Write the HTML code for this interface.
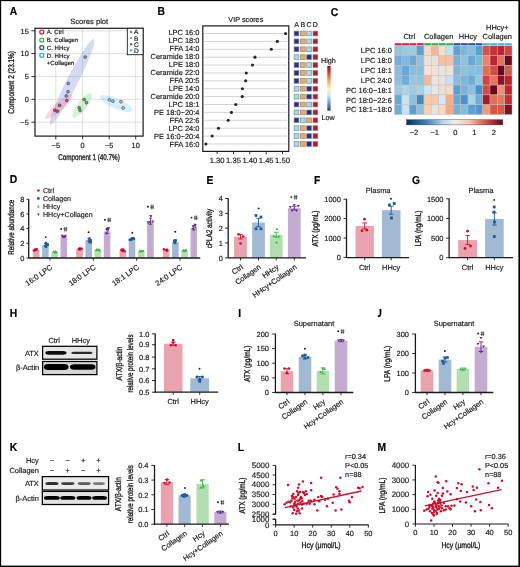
<!DOCTYPE html>
<html><head><meta charset="utf-8"><title>Figure</title>
<style>
html,body{margin:0;padding:0;background:#fff;}
svg{display:block;will-change:transform;}
svg text{font-family:"Liberation Sans", sans-serif;text-rendering:geometricPrecision;stroke:currentColor;stroke-width:0.18px;}
</style></head>
<body>
<svg width="520" height="567" viewBox="0 0 520 567" font-family='"Liberation Sans", sans-serif' fill="#222">
<rect x="0" y="0" width="520" height="567" fill="#fff"/>
<rect x="0" y="0" width="520" height="1" fill="#000"/><rect x="0" y="0" width="1" height="567" fill="#000"/>
<rect x="1" y="1" width="518" height="0.3" fill="#000" fill-opacity="0.5"/><rect x="1" y="1" width="0.3" height="565" fill="#000" fill-opacity="0.5"/>
<rect x="518.4" y="0" width="1.6" height="567" fill="#000"/><rect x="0" y="565.6" width="520" height="1.4" fill="#000"/>
<text x="9.8" y="15.25" font-size="11.5" font-weight="bold" fill="#000" color="#000" textLength="7.47" lengthAdjust="spacingAndGlyphs">A</text>
<text x="89.2" y="24.3" font-size="7.6" text-anchor="middle" fill="#1c1c1c" color="#1c1c1c">Scores plot</text>
<line x1="55.8" y1="28.3" x2="55.8" y2="136.1" stroke="#d8d8d8" stroke-width="0.8"/>
<line x1="82.6" y1="28.3" x2="82.6" y2="136.1" stroke="#d8d8d8" stroke-width="0.8"/>
<line x1="109.2" y1="28.3" x2="109.2" y2="136.1" stroke="#d8d8d8" stroke-width="0.8"/>
<line x1="135.7" y1="28.3" x2="135.7" y2="136.1" stroke="#d8d8d8" stroke-width="0.8"/>
<line x1="35" y1="30.8" x2="143.1" y2="30.8" stroke="#d8d8d8" stroke-width="0.8"/>
<line x1="35" y1="53.6" x2="143.1" y2="53.6" stroke="#d8d8d8" stroke-width="0.8"/>
<line x1="35" y1="76.6" x2="143.1" y2="76.6" stroke="#d8d8d8" stroke-width="0.8"/>
<line x1="35" y1="99.3" x2="143.1" y2="99.3" stroke="#d8d8d8" stroke-width="0.8"/>
<line x1="35" y1="122.2" x2="143.1" y2="122.2" stroke="#d8d8d8" stroke-width="0.8"/>
<ellipse cx="72" cy="82" rx="48" ry="5.7" transform="rotate(-63 72 82)" fill="#7f8fd6" fill-opacity="0.33"/>
<ellipse cx="59" cy="106.7" rx="17.6" ry="4.3" transform="rotate(-41.6 59 106.7)" fill="#f07fa0" fill-opacity="0.34"/>
<ellipse cx="82.2" cy="105.3" rx="14.6" ry="4.8" transform="rotate(-53 82.2 105.3)" fill="#8ad68a" fill-opacity="0.34"/>
<ellipse cx="116.2" cy="103.5" rx="17.5" ry="5.2" transform="rotate(23.7 116.2 103.5)" fill="#8ccff2" fill-opacity="0.34"/>
<circle cx="85.2" cy="57.1" r="1.45" fill="#8390d6" stroke="#333" stroke-width="0.55"/>
<circle cx="68.3" cy="83.4" r="1.45" fill="#8390d6" stroke="#333" stroke-width="0.55"/>
<circle cx="68" cy="91.7" r="1.45" fill="#8390d6" stroke="#333" stroke-width="0.55"/>
<circle cx="66.3" cy="95.9" r="1.45" fill="#8390d6" stroke="#333" stroke-width="0.55"/>
<circle cx="66.9" cy="100.6" r="1.45" fill="#c94a78" stroke="#333" stroke-width="0.55"/>
<circle cx="59.6" cy="105.4" r="1.45" fill="#c94a78" stroke="#333" stroke-width="0.55"/>
<circle cx="54.8" cy="110.2" r="1.45" fill="#c94a78" stroke="#333" stroke-width="0.55"/>
<circle cx="57.4" cy="111.3" r="1.45" fill="#c94a78" stroke="#333" stroke-width="0.55"/>
<circle cx="84.2" cy="99.6" r="1.45" fill="#4fb85a" stroke="#333" stroke-width="0.55"/>
<circle cx="86.5" cy="102.7" r="1.45" fill="#4fb85a" stroke="#333" stroke-width="0.55"/>
<circle cx="79.2" cy="107.7" r="1.45" fill="#4fb85a" stroke="#333" stroke-width="0.55"/>
<circle cx="80" cy="110.4" r="1.45" fill="#4fb85a" stroke="#333" stroke-width="0.55"/>
<circle cx="109.4" cy="99.8" r="1.45" fill="#86d2e6" stroke="#333" stroke-width="0.55"/>
<circle cx="112.9" cy="101.2" r="1.45" fill="#86d2e6" stroke="#333" stroke-width="0.55"/>
<circle cx="121" cy="101.7" r="1.45" fill="#86d2e6" stroke="#333" stroke-width="0.55"/>
<circle cx="123.1" cy="107.9" r="1.45" fill="#86d2e6" stroke="#333" stroke-width="0.55"/>
<rect x="35" y="28.3" width="108.1" height="107.8" fill="none" stroke="#1a1a1a" stroke-width="1.2"/>
<line x1="31.4" y1="30.8" x2="35" y2="30.8" stroke="#1a1a1a" stroke-width="0.9"/>
<text x="28.8" y="33.5" font-size="7.4" text-anchor="end" fill="#1c1c1c" color="#1c1c1c">15</text>
<line x1="31.4" y1="53.6" x2="35" y2="53.6" stroke="#1a1a1a" stroke-width="0.9"/>
<text x="28.8" y="56.3" font-size="7.4" text-anchor="end" fill="#1c1c1c" color="#1c1c1c">10</text>
<line x1="31.4" y1="76.6" x2="35" y2="76.6" stroke="#1a1a1a" stroke-width="0.9"/>
<text x="28.8" y="79.3" font-size="7.4" text-anchor="end" fill="#1c1c1c" color="#1c1c1c">5</text>
<line x1="31.4" y1="99.3" x2="35" y2="99.3" stroke="#1a1a1a" stroke-width="0.9"/>
<text x="28.8" y="102" font-size="7.4" text-anchor="end" fill="#1c1c1c" color="#1c1c1c">0</text>
<line x1="31.4" y1="122.2" x2="35" y2="122.2" stroke="#1a1a1a" stroke-width="0.9"/>
<text x="28.8" y="124.9" font-size="7.4" text-anchor="end" fill="#1c1c1c" color="#1c1c1c">−5</text>
<line x1="55.8" y1="136.1" x2="55.8" y2="139.3" stroke="#1a1a1a" stroke-width="0.9"/>
<text x="55.8" y="147.6" font-size="7.4" text-anchor="middle" fill="#1c1c1c" color="#1c1c1c">−5</text>
<line x1="82.6" y1="136.1" x2="82.6" y2="139.3" stroke="#1a1a1a" stroke-width="0.9"/>
<text x="82.6" y="147.6" font-size="7.4" text-anchor="middle" fill="#1c1c1c" color="#1c1c1c">0</text>
<line x1="109.2" y1="136.1" x2="109.2" y2="139.3" stroke="#1a1a1a" stroke-width="0.9"/>
<text x="109.2" y="147.6" font-size="7.4" text-anchor="middle" fill="#1c1c1c" color="#1c1c1c">−5</text>
<line x1="135.7" y1="136.1" x2="135.7" y2="139.3" stroke="#1a1a1a" stroke-width="0.9"/>
<text x="135.7" y="147.6" font-size="7.4" text-anchor="middle" fill="#1c1c1c" color="#1c1c1c">10</text>
<text x="89" y="159.8" font-size="8.4" text-anchor="middle" fill="#1c1c1c" color="#1c1c1c" textLength="61.5" lengthAdjust="spacingAndGlyphs" style="stroke-width:0.35px">Component 1 (40.7%)</text>
<text x="14" y="82.4" font-size="8.4" text-anchor="middle" fill="#1c1c1c" color="#1c1c1c" transform="rotate(-90 14 82.4)" textLength="62.5" lengthAdjust="spacingAndGlyphs" style="stroke-width:0.35px">Component 2 (23.1%)</text>
<circle cx="41.8" cy="32.1" r="2" fill="none" stroke="#d4213d" stroke-width="1.25"/>
<text x="46.8" y="34.3" font-size="6.1" fill="#1c1c1c" color="#1c1c1c">A. Ctrl</text>
<circle cx="41.8" cy="40" r="2" fill="none" stroke="#3db54a" stroke-width="1.25"/>
<text x="46.8" y="42.2" font-size="6.1" fill="#1c1c1c" color="#1c1c1c">B. Collagen</text>
<circle cx="41.8" cy="47.6" r="2" fill="none" stroke="#1c4f95" stroke-width="1.25"/>
<text x="46.8" y="49.8" font-size="6.1" fill="#1c1c1c" color="#1c1c1c">C. HHcy</text>
<circle cx="41.8" cy="55.3" r="2" fill="none" stroke="#35a8e0" stroke-width="1.25"/>
<text x="46.8" y="57.5" font-size="6.1" fill="#1c1c1c" color="#1c1c1c">D. HHcy</text>
<text x="46.8" y="64.8" font-size="6.1" fill="#1c1c1c" color="#1c1c1c">+Collagen</text>
<rect x="127.3" y="28.3" width="15.8" height="26.4" fill="#fff" stroke="#1a1a1a" stroke-width="0.9"/>
<circle cx="131.1" cy="31.9" r="1.2" fill="#e0506e"/>
<text x="134" y="34.3" font-size="6.6" fill="#1c1c1c" color="#1c1c1c">A</text>
<circle cx="131.1" cy="38.1" r="1.2" fill="#5cc05c"/>
<text x="134" y="40.5" font-size="6.6" fill="#1c1c1c" color="#1c1c1c">B</text>
<circle cx="131.1" cy="44.2" r="1.2" fill="#3a6cb8"/>
<text x="134" y="46.6" font-size="6.6" fill="#1c1c1c" color="#1c1c1c">C</text>
<circle cx="131.1" cy="50.3" r="1.2" fill="#45b5e8"/>
<text x="134" y="52.7" font-size="6.6" fill="#1c1c1c" color="#1c1c1c">D</text>
<text x="157.4" y="15.35" font-size="11.5" font-weight="bold" fill="#000" color="#000" textLength="7.47" lengthAdjust="spacingAndGlyphs">B</text>
<text x="245.8" y="22.4" font-size="7.25" text-anchor="middle" fill="#1c1c1c" color="#1c1c1c">VIP scores</text>
<line x1="204.3" y1="33.5" x2="287.2" y2="33.5" stroke="#d4d4d4" stroke-width="1"/>
<line x1="204.3" y1="41.39" x2="287.2" y2="41.39" stroke="#d4d4d4" stroke-width="1"/>
<line x1="204.3" y1="49.28" x2="287.2" y2="49.28" stroke="#d4d4d4" stroke-width="1"/>
<line x1="204.3" y1="57.17" x2="287.2" y2="57.17" stroke="#d4d4d4" stroke-width="1"/>
<line x1="204.3" y1="65.06" x2="287.2" y2="65.06" stroke="#d4d4d4" stroke-width="1"/>
<line x1="204.3" y1="72.95" x2="287.2" y2="72.95" stroke="#d4d4d4" stroke-width="1"/>
<line x1="204.3" y1="80.84" x2="287.2" y2="80.84" stroke="#d4d4d4" stroke-width="1"/>
<line x1="204.3" y1="88.73" x2="287.2" y2="88.73" stroke="#d4d4d4" stroke-width="1"/>
<line x1="204.3" y1="96.62" x2="287.2" y2="96.62" stroke="#d4d4d4" stroke-width="1"/>
<line x1="204.3" y1="104.51" x2="287.2" y2="104.51" stroke="#d4d4d4" stroke-width="1"/>
<line x1="204.3" y1="112.4" x2="287.2" y2="112.4" stroke="#d4d4d4" stroke-width="1"/>
<line x1="204.3" y1="120.29" x2="287.2" y2="120.29" stroke="#d4d4d4" stroke-width="1"/>
<line x1="204.3" y1="128.18" x2="287.2" y2="128.18" stroke="#d4d4d4" stroke-width="1"/>
<line x1="204.3" y1="136.07" x2="287.2" y2="136.07" stroke="#d4d4d4" stroke-width="1"/>
<line x1="204.3" y1="143.96" x2="287.2" y2="143.96" stroke="#d4d4d4" stroke-width="1"/>
<circle cx="285.6" cy="33.5" r="1.55" fill="#1b2638"/>
<text x="199.4" y="35" font-size="7.45" text-anchor="end" fill="#1c1c1c" color="#1c1c1c">LPC 16:0</text>
<circle cx="277.3" cy="41.39" r="1.55" fill="#1b2638"/>
<text x="199.4" y="42.98" font-size="7.45" text-anchor="end" fill="#1c1c1c" color="#1c1c1c">LPC 18:0</text>
<circle cx="271.3" cy="49.28" r="1.55" fill="#1b2638"/>
<text x="199.4" y="50.96" font-size="7.45" text-anchor="end" fill="#1c1c1c" color="#1c1c1c">FFA 14:0</text>
<circle cx="255" cy="57.17" r="1.55" fill="#1b2638"/>
<text x="199.4" y="58.94" font-size="7.45" text-anchor="end" fill="#1c1c1c" color="#1c1c1c">Ceramide 18:0</text>
<circle cx="252.5" cy="65.06" r="1.55" fill="#1b2638"/>
<text x="199.4" y="66.92" font-size="7.45" text-anchor="end" fill="#1c1c1c" color="#1c1c1c">LPE 18:0</text>
<circle cx="246.3" cy="72.95" r="1.55" fill="#1b2638"/>
<text x="199.4" y="74.9" font-size="7.45" text-anchor="end" fill="#1c1c1c" color="#1c1c1c">Ceramide 22:0</text>
<circle cx="245.7" cy="80.84" r="1.55" fill="#1b2638"/>
<text x="199.4" y="82.88" font-size="7.45" text-anchor="end" fill="#1c1c1c" color="#1c1c1c">FFA 20:5</text>
<circle cx="242.4" cy="88.73" r="1.55" fill="#1b2638"/>
<text x="199.4" y="90.86" font-size="7.45" text-anchor="end" fill="#1c1c1c" color="#1c1c1c">LPE 14:0</text>
<circle cx="242.2" cy="96.62" r="1.55" fill="#1b2638"/>
<text x="199.4" y="98.84" font-size="7.45" text-anchor="end" fill="#1c1c1c" color="#1c1c1c">Ceramide 20:0</text>
<circle cx="235.8" cy="104.51" r="1.55" fill="#1b2638"/>
<text x="199.4" y="106.82" font-size="7.45" text-anchor="end" fill="#1c1c1c" color="#1c1c1c">LPC 18:1</text>
<circle cx="231.4" cy="112.4" r="1.55" fill="#1b2638"/>
<text x="199.4" y="114.8" font-size="7.45" text-anchor="end" fill="#1c1c1c" color="#1c1c1c">PE 18:0−20:4</text>
<circle cx="228.2" cy="120.29" r="1.55" fill="#1b2638"/>
<text x="199.4" y="122.78" font-size="7.45" text-anchor="end" fill="#1c1c1c" color="#1c1c1c">FFA 22:6</text>
<circle cx="218.5" cy="128.18" r="1.55" fill="#1b2638"/>
<text x="199.4" y="130.76" font-size="7.45" text-anchor="end" fill="#1c1c1c" color="#1c1c1c">LPC 24:0</text>
<circle cx="212.2" cy="136.07" r="1.55" fill="#1b2638"/>
<text x="199.4" y="138.74" font-size="7.45" text-anchor="end" fill="#1c1c1c" color="#1c1c1c">PE 16:0−20:4</text>
<circle cx="205.9" cy="143.96" r="1.55" fill="#1b2638"/>
<text x="199.4" y="146.72" font-size="7.45" text-anchor="end" fill="#1c1c1c" color="#1c1c1c">FFA 16:0</text>
<rect x="202.8" y="25.9" width="86" height="125.5" fill="none" stroke="#1a1a1a" stroke-width="1.2"/>
<line x1="217.1" y1="151.4" x2="217.1" y2="154.2" stroke="#1a1a1a" stroke-width="0.9"/>
<text x="217.1" y="163.2" font-size="7.6" text-anchor="middle" fill="#1c1c1c" color="#1c1c1c">1.30</text>
<line x1="233.5" y1="151.4" x2="233.5" y2="154.2" stroke="#1a1a1a" stroke-width="0.9"/>
<text x="233.5" y="163.2" font-size="7.6" text-anchor="middle" fill="#1c1c1c" color="#1c1c1c">1.35</text>
<line x1="249.8" y1="151.4" x2="249.8" y2="154.2" stroke="#1a1a1a" stroke-width="0.9"/>
<text x="249.8" y="163.2" font-size="7.6" text-anchor="middle" fill="#1c1c1c" color="#1c1c1c">1.40</text>
<line x1="266.2" y1="151.4" x2="266.2" y2="154.2" stroke="#1a1a1a" stroke-width="0.9"/>
<text x="266.2" y="163.2" font-size="7.6" text-anchor="middle" fill="#1c1c1c" color="#1c1c1c">1.45</text>
<line x1="282.5" y1="151.4" x2="282.5" y2="154.2" stroke="#1a1a1a" stroke-width="0.9"/>
<text x="282.5" y="163.2" font-size="7.6" text-anchor="middle" fill="#1c1c1c" color="#1c1c1c">1.50</text>
<rect x="294.1" y="31.1" width="4.8" height="4.8" fill="#23318c" stroke="#8a8a8a" stroke-width="0.7"/>
<rect x="300.4" y="31.1" width="4.8" height="4.8" fill="#f5a65b" stroke="#8a8a8a" stroke-width="0.7"/>
<rect x="306.7" y="31.1" width="4.8" height="4.8" fill="#a5d9f2" stroke="#8a8a8a" stroke-width="0.7"/>
<rect x="313" y="31.1" width="4.8" height="4.8" fill="#b3192b" stroke="#8a8a8a" stroke-width="0.7"/>
<rect x="294.1" y="38.99" width="4.8" height="4.8" fill="#23318c" stroke="#8a8a8a" stroke-width="0.7"/>
<rect x="300.4" y="38.99" width="4.8" height="4.8" fill="#f5a65b" stroke="#8a8a8a" stroke-width="0.7"/>
<rect x="306.7" y="38.99" width="4.8" height="4.8" fill="#a5d9f2" stroke="#8a8a8a" stroke-width="0.7"/>
<rect x="313" y="38.99" width="4.8" height="4.8" fill="#b3192b" stroke="#8a8a8a" stroke-width="0.7"/>
<rect x="294.1" y="46.88" width="4.8" height="4.8" fill="#23318c" stroke="#8a8a8a" stroke-width="0.7"/>
<rect x="300.4" y="46.88" width="4.8" height="4.8" fill="#f5a65b" stroke="#8a8a8a" stroke-width="0.7"/>
<rect x="306.7" y="46.88" width="4.8" height="4.8" fill="#a5d9f2" stroke="#8a8a8a" stroke-width="0.7"/>
<rect x="313" y="46.88" width="4.8" height="4.8" fill="#b3192b" stroke="#8a8a8a" stroke-width="0.7"/>
<rect x="294.1" y="54.77" width="4.8" height="4.8" fill="#a5d9f2" stroke="#8a8a8a" stroke-width="0.7"/>
<rect x="300.4" y="54.77" width="4.8" height="4.8" fill="#f5a65b" stroke="#8a8a8a" stroke-width="0.7"/>
<rect x="306.7" y="54.77" width="4.8" height="4.8" fill="#23318c" stroke="#8a8a8a" stroke-width="0.7"/>
<rect x="313" y="54.77" width="4.8" height="4.8" fill="#b3192b" stroke="#8a8a8a" stroke-width="0.7"/>
<rect x="294.1" y="62.66" width="4.8" height="4.8" fill="#23318c" stroke="#8a8a8a" stroke-width="0.7"/>
<rect x="300.4" y="62.66" width="4.8" height="4.8" fill="#f5a65b" stroke="#8a8a8a" stroke-width="0.7"/>
<rect x="306.7" y="62.66" width="4.8" height="4.8" fill="#a5d9f2" stroke="#8a8a8a" stroke-width="0.7"/>
<rect x="313" y="62.66" width="4.8" height="4.8" fill="#b3192b" stroke="#8a8a8a" stroke-width="0.7"/>
<rect x="294.1" y="70.55" width="4.8" height="4.8" fill="#23318c" stroke="#8a8a8a" stroke-width="0.7"/>
<rect x="300.4" y="70.55" width="4.8" height="4.8" fill="#f5a65b" stroke="#8a8a8a" stroke-width="0.7"/>
<rect x="306.7" y="70.55" width="4.8" height="4.8" fill="#a5d9f2" stroke="#8a8a8a" stroke-width="0.7"/>
<rect x="313" y="70.55" width="4.8" height="4.8" fill="#b3192b" stroke="#8a8a8a" stroke-width="0.7"/>
<rect x="294.1" y="78.44" width="4.8" height="4.8" fill="#23318c" stroke="#8a8a8a" stroke-width="0.7"/>
<rect x="300.4" y="78.44" width="4.8" height="4.8" fill="#f5a65b" stroke="#8a8a8a" stroke-width="0.7"/>
<rect x="306.7" y="78.44" width="4.8" height="4.8" fill="#a5d9f2" stroke="#8a8a8a" stroke-width="0.7"/>
<rect x="313" y="78.44" width="4.8" height="4.8" fill="#b3192b" stroke="#8a8a8a" stroke-width="0.7"/>
<rect x="294.1" y="86.33" width="4.8" height="4.8" fill="#a5d9f2" stroke="#8a8a8a" stroke-width="0.7"/>
<rect x="300.4" y="86.33" width="4.8" height="4.8" fill="#f5a65b" stroke="#8a8a8a" stroke-width="0.7"/>
<rect x="306.7" y="86.33" width="4.8" height="4.8" fill="#23318c" stroke="#8a8a8a" stroke-width="0.7"/>
<rect x="313" y="86.33" width="4.8" height="4.8" fill="#b3192b" stroke="#8a8a8a" stroke-width="0.7"/>
<rect x="294.1" y="94.22" width="4.8" height="4.8" fill="#a5d9f2" stroke="#8a8a8a" stroke-width="0.7"/>
<rect x="300.4" y="94.22" width="4.8" height="4.8" fill="#f5a65b" stroke="#8a8a8a" stroke-width="0.7"/>
<rect x="306.7" y="94.22" width="4.8" height="4.8" fill="#23318c" stroke="#8a8a8a" stroke-width="0.7"/>
<rect x="313" y="94.22" width="4.8" height="4.8" fill="#b3192b" stroke="#8a8a8a" stroke-width="0.7"/>
<rect x="294.1" y="102.11" width="4.8" height="4.8" fill="#23318c" stroke="#8a8a8a" stroke-width="0.7"/>
<rect x="300.4" y="102.11" width="4.8" height="4.8" fill="#f5a65b" stroke="#8a8a8a" stroke-width="0.7"/>
<rect x="306.7" y="102.11" width="4.8" height="4.8" fill="#a5d9f2" stroke="#8a8a8a" stroke-width="0.7"/>
<rect x="313" y="102.11" width="4.8" height="4.8" fill="#b3192b" stroke="#8a8a8a" stroke-width="0.7"/>
<rect x="294.1" y="110" width="4.8" height="4.8" fill="#a5d9f2" stroke="#8a8a8a" stroke-width="0.7"/>
<rect x="300.4" y="110" width="4.8" height="4.8" fill="#f5a65b" stroke="#8a8a8a" stroke-width="0.7"/>
<rect x="306.7" y="110" width="4.8" height="4.8" fill="#23318c" stroke="#8a8a8a" stroke-width="0.7"/>
<rect x="313" y="110" width="4.8" height="4.8" fill="#b3192b" stroke="#8a8a8a" stroke-width="0.7"/>
<rect x="294.1" y="117.89" width="4.8" height="4.8" fill="#23318c" stroke="#8a8a8a" stroke-width="0.7"/>
<rect x="300.4" y="117.89" width="4.8" height="4.8" fill="#a5d9f2" stroke="#8a8a8a" stroke-width="0.7"/>
<rect x="306.7" y="117.89" width="4.8" height="4.8" fill="#f5a65b" stroke="#8a8a8a" stroke-width="0.7"/>
<rect x="313" y="117.89" width="4.8" height="4.8" fill="#b3192b" stroke="#8a8a8a" stroke-width="0.7"/>
<rect x="294.1" y="125.78" width="4.8" height="4.8" fill="#a5d9f2" stroke="#8a8a8a" stroke-width="0.7"/>
<rect x="300.4" y="125.78" width="4.8" height="4.8" fill="#f5a65b" stroke="#8a8a8a" stroke-width="0.7"/>
<rect x="306.7" y="125.78" width="4.8" height="4.8" fill="#23318c" stroke="#8a8a8a" stroke-width="0.7"/>
<rect x="313" y="125.78" width="4.8" height="4.8" fill="#b3192b" stroke="#8a8a8a" stroke-width="0.7"/>
<rect x="294.1" y="133.67" width="4.8" height="4.8" fill="#a5d9f2" stroke="#8a8a8a" stroke-width="0.7"/>
<rect x="300.4" y="133.67" width="4.8" height="4.8" fill="#f5a65b" stroke="#8a8a8a" stroke-width="0.7"/>
<rect x="306.7" y="133.67" width="4.8" height="4.8" fill="#23318c" stroke="#8a8a8a" stroke-width="0.7"/>
<rect x="313" y="133.67" width="4.8" height="4.8" fill="#b3192b" stroke="#8a8a8a" stroke-width="0.7"/>
<rect x="294.1" y="141.56" width="4.8" height="4.8" fill="#a5d9f2" stroke="#8a8a8a" stroke-width="0.7"/>
<rect x="300.4" y="141.56" width="4.8" height="4.8" fill="#f5a65b" stroke="#8a8a8a" stroke-width="0.7"/>
<rect x="306.7" y="141.56" width="4.8" height="4.8" fill="#23318c" stroke="#8a8a8a" stroke-width="0.7"/>
<rect x="313" y="141.56" width="4.8" height="4.8" fill="#b3192b" stroke="#8a8a8a" stroke-width="0.7"/>
<text x="296.5" y="27.1" font-size="7" text-anchor="middle" fill="#1c1c1c" color="#1c1c1c">A</text>
<text x="302.8" y="27.1" font-size="7" text-anchor="middle" fill="#1c1c1c" color="#1c1c1c">B</text>
<text x="309.1" y="27.1" font-size="7" text-anchor="middle" fill="#1c1c1c" color="#1c1c1c">C</text>
<text x="315.4" y="27.1" font-size="7" text-anchor="middle" fill="#1c1c1c" color="#1c1c1c">D</text>
<text x="321" y="62.7" font-size="7.2" fill="#1c1c1c" color="#1c1c1c">High</text>
<defs><linearGradient id="gB" x1="0" y1="0" x2="0" y2="1"><stop offset="0" stop-color="#a50026"/><stop offset="0.18" stop-color="#e34a33"/><stop offset="0.33" stop-color="#fca55d"/><stop offset="0.5" stop-color="#fff3a8"/><stop offset="0.66" stop-color="#c7e7f2"/><stop offset="0.82" stop-color="#6f9fcc"/><stop offset="1" stop-color="#313695"/></linearGradient><linearGradient id="gC" x1="0" y1="0" x2="1" y2="0"><stop offset="0" stop-color="#053061"/><stop offset="0.2" stop-color="#3a7db8"/><stop offset="0.38" stop-color="#b5d6ea"/><stop offset="0.5" stop-color="#efeeee"/><stop offset="0.65" stop-color="#f7c4aa"/><stop offset="0.8" stop-color="#d66252"/><stop offset="1" stop-color="#67001f"/></linearGradient></defs>
<rect x="327.3" y="65.9" width="3.3" height="44.8" fill="url(#gB)"/>
<text x="321.6" y="119.9" font-size="7.2" fill="#1c1c1c" color="#1c1c1c">Low</text>
<text x="330.8" y="15.55" font-size="11.5" font-weight="bold" fill="#000" color="#000" textLength="7.47" lengthAdjust="spacingAndGlyphs">C</text>
<rect x="394.6" y="45.8" width="7.34" height="9.82" fill="#92c4de" stroke="#bdbdbd" stroke-width="0.45"/>
<rect x="401.94" y="45.8" width="7.34" height="9.82" fill="#9ccae0" stroke="#bdbdbd" stroke-width="0.45"/>
<rect x="409.28" y="45.8" width="7.34" height="9.82" fill="#9dcde3" stroke="#bdbdbd" stroke-width="0.45"/>
<rect x="416.62" y="45.8" width="7.34" height="9.82" fill="#5a9fd0" stroke="#bdbdbd" stroke-width="0.45"/>
<rect x="423.96" y="45.8" width="7.34" height="9.82" fill="#f3ddc8" stroke="#bdbdbd" stroke-width="0.45"/>
<rect x="431.3" y="45.8" width="7.34" height="9.82" fill="#f4b596" stroke="#bdbdbd" stroke-width="0.45"/>
<rect x="438.64" y="45.8" width="7.34" height="9.82" fill="#f7dcd0" stroke="#bdbdbd" stroke-width="0.45"/>
<rect x="445.98" y="45.8" width="7.34" height="9.82" fill="#c6e0ef" stroke="#bdbdbd" stroke-width="0.45"/>
<rect x="453.32" y="45.8" width="7.34" height="9.82" fill="#5fa3cc" stroke="#bdbdbd" stroke-width="0.45"/>
<rect x="460.66" y="45.8" width="7.34" height="9.82" fill="#7fb6dc" stroke="#bdbdbd" stroke-width="0.45"/>
<rect x="468" y="45.8" width="7.34" height="9.82" fill="#88bfe0" stroke="#bdbdbd" stroke-width="0.45"/>
<rect x="475.34" y="45.8" width="7.34" height="9.82" fill="#5b9fd0" stroke="#bdbdbd" stroke-width="0.45"/>
<rect x="482.68" y="45.8" width="7.34" height="9.82" fill="#d6524a" stroke="#bdbdbd" stroke-width="0.45"/>
<rect x="490.02" y="45.8" width="7.34" height="9.82" fill="#c8303b" stroke="#bdbdbd" stroke-width="0.45"/>
<rect x="497.36" y="45.8" width="7.34" height="9.82" fill="#c0202f" stroke="#bdbdbd" stroke-width="0.45"/>
<rect x="504.7" y="45.8" width="7.34" height="9.82" fill="#cf443e" stroke="#bdbdbd" stroke-width="0.45"/>
<rect x="394.6" y="55.62" width="7.34" height="9.82" fill="#74aed8" stroke="#bdbdbd" stroke-width="0.45"/>
<rect x="401.94" y="55.62" width="7.34" height="9.82" fill="#86b8df" stroke="#bdbdbd" stroke-width="0.45"/>
<rect x="409.28" y="55.62" width="7.34" height="9.82" fill="#6aaad6" stroke="#bdbdbd" stroke-width="0.45"/>
<rect x="416.62" y="55.62" width="7.34" height="9.82" fill="#92c2e0" stroke="#bdbdbd" stroke-width="0.45"/>
<rect x="423.96" y="55.62" width="7.34" height="9.82" fill="#ebe1dc" stroke="#bdbdbd" stroke-width="0.45"/>
<rect x="431.3" y="55.62" width="7.34" height="9.82" fill="#efdfd8" stroke="#bdbdbd" stroke-width="0.45"/>
<rect x="438.64" y="55.62" width="7.34" height="9.82" fill="#f6bf9f" stroke="#bdbdbd" stroke-width="0.45"/>
<rect x="445.98" y="55.62" width="7.34" height="9.82" fill="#f6c2a2" stroke="#bdbdbd" stroke-width="0.45"/>
<rect x="453.32" y="55.62" width="7.34" height="9.82" fill="#7ab2de" stroke="#bdbdbd" stroke-width="0.45"/>
<rect x="460.66" y="55.62" width="7.34" height="9.82" fill="#8cc2e2" stroke="#bdbdbd" stroke-width="0.45"/>
<rect x="468" y="55.62" width="7.34" height="9.82" fill="#6aa8d6" stroke="#bdbdbd" stroke-width="0.45"/>
<rect x="475.34" y="55.62" width="7.34" height="9.82" fill="#7bbad6" stroke="#bdbdbd" stroke-width="0.45"/>
<rect x="482.68" y="55.62" width="7.34" height="9.82" fill="#ea8466" stroke="#bdbdbd" stroke-width="0.45"/>
<rect x="490.02" y="55.62" width="7.34" height="9.82" fill="#c0222e" stroke="#bdbdbd" stroke-width="0.45"/>
<rect x="497.36" y="55.62" width="7.34" height="9.82" fill="#e07459" stroke="#bdbdbd" stroke-width="0.45"/>
<rect x="504.7" y="55.62" width="7.34" height="9.82" fill="#6f0a1e" stroke="#bdbdbd" stroke-width="0.45"/>
<rect x="394.6" y="65.44" width="7.34" height="9.82" fill="#8abde0" stroke="#bdbdbd" stroke-width="0.45"/>
<rect x="401.94" y="65.44" width="7.34" height="9.82" fill="#6aa9d5" stroke="#bdbdbd" stroke-width="0.45"/>
<rect x="409.28" y="65.44" width="7.34" height="9.82" fill="#88bde0" stroke="#bdbdbd" stroke-width="0.45"/>
<rect x="416.62" y="65.44" width="7.34" height="9.82" fill="#88bfe0" stroke="#bdbdbd" stroke-width="0.45"/>
<rect x="423.96" y="65.44" width="7.34" height="9.82" fill="#f8e0d4" stroke="#bdbdbd" stroke-width="0.45"/>
<rect x="431.3" y="65.44" width="7.34" height="9.82" fill="#f2e2d6" stroke="#bdbdbd" stroke-width="0.45"/>
<rect x="438.64" y="65.44" width="7.34" height="9.82" fill="#ebe4e0" stroke="#bdbdbd" stroke-width="0.45"/>
<rect x="445.98" y="65.44" width="7.34" height="9.82" fill="#f3e0d8" stroke="#bdbdbd" stroke-width="0.45"/>
<rect x="453.32" y="65.44" width="7.34" height="9.82" fill="#80b8dd" stroke="#bdbdbd" stroke-width="0.45"/>
<rect x="460.66" y="65.44" width="7.34" height="9.82" fill="#8dc4da" stroke="#bdbdbd" stroke-width="0.45"/>
<rect x="468" y="65.44" width="7.34" height="9.82" fill="#87bfe2" stroke="#bdbdbd" stroke-width="0.45"/>
<rect x="475.34" y="65.44" width="7.34" height="9.82" fill="#84bce6" stroke="#bdbdbd" stroke-width="0.45"/>
<rect x="482.68" y="65.44" width="7.34" height="9.82" fill="#e06c54" stroke="#bdbdbd" stroke-width="0.45"/>
<rect x="490.02" y="65.44" width="7.34" height="9.82" fill="#d74a42" stroke="#bdbdbd" stroke-width="0.45"/>
<rect x="497.36" y="65.44" width="7.34" height="9.82" fill="#6a0a20" stroke="#bdbdbd" stroke-width="0.45"/>
<rect x="504.7" y="65.44" width="7.34" height="9.82" fill="#d65a4a" stroke="#bdbdbd" stroke-width="0.45"/>
<rect x="394.6" y="75.26" width="7.34" height="9.82" fill="#8dbee0" stroke="#bdbdbd" stroke-width="0.45"/>
<rect x="401.94" y="75.26" width="7.34" height="9.82" fill="#71acd6" stroke="#bdbdbd" stroke-width="0.45"/>
<rect x="409.28" y="75.26" width="7.34" height="9.82" fill="#94c6e3" stroke="#bdbdbd" stroke-width="0.45"/>
<rect x="416.62" y="75.26" width="7.34" height="9.82" fill="#90c5e0" stroke="#bdbdbd" stroke-width="0.45"/>
<rect x="423.96" y="75.26" width="7.34" height="9.82" fill="#f2b8a0" stroke="#bdbdbd" stroke-width="0.45"/>
<rect x="431.3" y="75.26" width="7.34" height="9.82" fill="#ece3e0" stroke="#bdbdbd" stroke-width="0.45"/>
<rect x="438.64" y="75.26" width="7.34" height="9.82" fill="#ebe0de" stroke="#bdbdbd" stroke-width="0.45"/>
<rect x="445.98" y="75.26" width="7.34" height="9.82" fill="#c8e1f2" stroke="#bdbdbd" stroke-width="0.45"/>
<rect x="453.32" y="75.26" width="7.34" height="9.82" fill="#86bde0" stroke="#bdbdbd" stroke-width="0.45"/>
<rect x="460.66" y="75.26" width="7.34" height="9.82" fill="#7eb5dc" stroke="#bdbdbd" stroke-width="0.45"/>
<rect x="468" y="75.26" width="7.34" height="9.82" fill="#6eadd8" stroke="#bdbdbd" stroke-width="0.45"/>
<rect x="475.34" y="75.26" width="7.34" height="9.82" fill="#92c9e2" stroke="#bdbdbd" stroke-width="0.45"/>
<rect x="482.68" y="75.26" width="7.34" height="9.82" fill="#d0443e" stroke="#bdbdbd" stroke-width="0.45"/>
<rect x="490.02" y="75.26" width="7.34" height="9.82" fill="#e67660" stroke="#bdbdbd" stroke-width="0.45"/>
<rect x="497.36" y="75.26" width="7.34" height="9.82" fill="#8c1226" stroke="#bdbdbd" stroke-width="0.45"/>
<rect x="504.7" y="75.26" width="7.34" height="9.82" fill="#c0202c" stroke="#bdbdbd" stroke-width="0.45"/>
<rect x="394.6" y="85.08" width="7.34" height="9.82" fill="#9ccce4" stroke="#bdbdbd" stroke-width="0.45"/>
<rect x="401.94" y="85.08" width="7.34" height="9.82" fill="#aed4ea" stroke="#bdbdbd" stroke-width="0.45"/>
<rect x="409.28" y="85.08" width="7.34" height="9.82" fill="#9ccde4" stroke="#bdbdbd" stroke-width="0.45"/>
<rect x="416.62" y="85.08" width="7.34" height="9.82" fill="#a4d2e6" stroke="#bdbdbd" stroke-width="0.45"/>
<rect x="423.96" y="85.08" width="7.34" height="9.82" fill="#d0e6f4" stroke="#bdbdbd" stroke-width="0.45"/>
<rect x="431.3" y="85.08" width="7.34" height="9.82" fill="#e4e7e6" stroke="#bdbdbd" stroke-width="0.45"/>
<rect x="438.64" y="85.08" width="7.34" height="9.82" fill="#ebe0d8" stroke="#bdbdbd" stroke-width="0.45"/>
<rect x="445.98" y="85.08" width="7.34" height="9.82" fill="#fad7c0" stroke="#bdbdbd" stroke-width="0.45"/>
<rect x="453.32" y="85.08" width="7.34" height="9.82" fill="#5a9fd2" stroke="#bdbdbd" stroke-width="0.45"/>
<rect x="460.66" y="85.08" width="7.34" height="9.82" fill="#7ab4dc" stroke="#bdbdbd" stroke-width="0.45"/>
<rect x="468" y="85.08" width="7.34" height="9.82" fill="#8cc0e0" stroke="#bdbdbd" stroke-width="0.45"/>
<rect x="475.34" y="85.08" width="7.34" height="9.82" fill="#4a90cc" stroke="#bdbdbd" stroke-width="0.45"/>
<rect x="482.68" y="85.08" width="7.34" height="9.82" fill="#d64c44" stroke="#bdbdbd" stroke-width="0.45"/>
<rect x="490.02" y="85.08" width="7.34" height="9.82" fill="#6a0a1e" stroke="#bdbdbd" stroke-width="0.45"/>
<rect x="497.36" y="85.08" width="7.34" height="9.82" fill="#f0916e" stroke="#bdbdbd" stroke-width="0.45"/>
<rect x="504.7" y="85.08" width="7.34" height="9.82" fill="#c0222e" stroke="#bdbdbd" stroke-width="0.45"/>
<rect x="394.6" y="94.9" width="7.34" height="9.82" fill="#6aa8d5" stroke="#bdbdbd" stroke-width="0.45"/>
<rect x="401.94" y="94.9" width="7.34" height="9.82" fill="#c5e3f0" stroke="#bdbdbd" stroke-width="0.45"/>
<rect x="409.28" y="94.9" width="7.34" height="9.82" fill="#8cc1e0" stroke="#bdbdbd" stroke-width="0.45"/>
<rect x="416.62" y="94.9" width="7.34" height="9.82" fill="#3f8ac5" stroke="#bdbdbd" stroke-width="0.45"/>
<rect x="423.96" y="94.9" width="7.34" height="9.82" fill="#f9c9aa" stroke="#bdbdbd" stroke-width="0.45"/>
<rect x="431.3" y="94.9" width="7.34" height="9.82" fill="#f8c8a8" stroke="#bdbdbd" stroke-width="0.45"/>
<rect x="438.64" y="94.9" width="7.34" height="9.82" fill="#dde7ef" stroke="#bdbdbd" stroke-width="0.45"/>
<rect x="445.98" y="94.9" width="7.34" height="9.82" fill="#f5ad88" stroke="#bdbdbd" stroke-width="0.45"/>
<rect x="453.32" y="94.9" width="7.34" height="9.82" fill="#68aad6" stroke="#bdbdbd" stroke-width="0.45"/>
<rect x="460.66" y="94.9" width="7.34" height="9.82" fill="#4c92cc" stroke="#bdbdbd" stroke-width="0.45"/>
<rect x="468" y="94.9" width="7.34" height="9.82" fill="#a8d4ea" stroke="#bdbdbd" stroke-width="0.45"/>
<rect x="475.34" y="94.9" width="7.34" height="9.82" fill="#70aed8" stroke="#bdbdbd" stroke-width="0.45"/>
<rect x="482.68" y="94.9" width="7.34" height="9.82" fill="#a81a2a" stroke="#bdbdbd" stroke-width="0.45"/>
<rect x="490.02" y="94.9" width="7.34" height="9.82" fill="#e27058" stroke="#bdbdbd" stroke-width="0.45"/>
<rect x="497.36" y="94.9" width="7.34" height="9.82" fill="#e27a5e" stroke="#bdbdbd" stroke-width="0.45"/>
<rect x="504.7" y="94.9" width="7.34" height="9.82" fill="#c62c36" stroke="#bdbdbd" stroke-width="0.45"/>
<rect x="394.6" y="104.72" width="7.34" height="9.82" fill="#70acd6" stroke="#bdbdbd" stroke-width="0.45"/>
<rect x="401.94" y="104.72" width="7.34" height="9.82" fill="#c8e2f2" stroke="#bdbdbd" stroke-width="0.45"/>
<rect x="409.28" y="104.72" width="7.34" height="9.82" fill="#5e9fd2" stroke="#bdbdbd" stroke-width="0.45"/>
<rect x="416.62" y="104.72" width="7.34" height="9.82" fill="#8dc0df" stroke="#bdbdbd" stroke-width="0.45"/>
<rect x="423.96" y="104.72" width="7.34" height="9.82" fill="#f9cfb4" stroke="#bdbdbd" stroke-width="0.45"/>
<rect x="431.3" y="104.72" width="7.34" height="9.82" fill="#ebe2de" stroke="#bdbdbd" stroke-width="0.45"/>
<rect x="438.64" y="104.72" width="7.34" height="9.82" fill="#fbd8c2" stroke="#bdbdbd" stroke-width="0.45"/>
<rect x="445.98" y="104.72" width="7.34" height="9.82" fill="#f5a983" stroke="#bdbdbd" stroke-width="0.45"/>
<rect x="453.32" y="104.72" width="7.34" height="9.82" fill="#74b0da" stroke="#bdbdbd" stroke-width="0.45"/>
<rect x="460.66" y="104.72" width="7.34" height="9.82" fill="#84bce0" stroke="#bdbdbd" stroke-width="0.45"/>
<rect x="468" y="104.72" width="7.34" height="9.82" fill="#5ea0d4" stroke="#bdbdbd" stroke-width="0.45"/>
<rect x="475.34" y="104.72" width="7.34" height="9.82" fill="#4f95cf" stroke="#bdbdbd" stroke-width="0.45"/>
<rect x="482.68" y="104.72" width="7.34" height="9.82" fill="#f09878" stroke="#bdbdbd" stroke-width="0.45"/>
<rect x="490.02" y="104.72" width="7.34" height="9.82" fill="#d95444" stroke="#bdbdbd" stroke-width="0.45"/>
<rect x="497.36" y="104.72" width="7.34" height="9.82" fill="#d95848" stroke="#bdbdbd" stroke-width="0.45"/>
<rect x="504.7" y="104.72" width="7.34" height="9.82" fill="#82101f" stroke="#bdbdbd" stroke-width="0.45"/>
<rect x="394.85" y="43.2" width="6.84" height="2" fill="#e2174f"/>
<rect x="402.19" y="43.2" width="6.84" height="2" fill="#e2174f"/>
<rect x="409.53" y="43.2" width="6.84" height="2" fill="#e2174f"/>
<rect x="416.87" y="43.2" width="6.84" height="2" fill="#e2174f"/>
<rect x="424.21" y="43.2" width="6.84" height="2" fill="#2fae4a"/>
<rect x="431.55" y="43.2" width="6.84" height="2" fill="#2fae4a"/>
<rect x="438.89" y="43.2" width="6.84" height="2" fill="#2fae4a"/>
<rect x="446.23" y="43.2" width="6.84" height="2" fill="#2fae4a"/>
<rect x="453.57" y="43.2" width="6.84" height="2" fill="#34489c"/>
<rect x="460.91" y="43.2" width="6.84" height="2" fill="#34489c"/>
<rect x="468.25" y="43.2" width="6.84" height="2" fill="#34489c"/>
<rect x="475.59" y="43.2" width="6.84" height="2" fill="#34489c"/>
<rect x="482.93" y="43.2" width="6.84" height="2" fill="#33bde6"/>
<rect x="490.27" y="43.2" width="6.84" height="2" fill="#33bde6"/>
<rect x="497.61" y="43.2" width="6.84" height="2" fill="#33bde6"/>
<rect x="504.95" y="43.2" width="6.84" height="2" fill="#33bde6"/>
<text x="391.8" y="53.41" font-size="7.45" text-anchor="end" fill="#1c1c1c" color="#1c1c1c">LPC 16:0</text>
<text x="391.8" y="63.23" font-size="7.45" text-anchor="end" fill="#1c1c1c" color="#1c1c1c">LPC 18:0</text>
<text x="391.8" y="73.05" font-size="7.45" text-anchor="end" fill="#1c1c1c" color="#1c1c1c">LPC 18:1</text>
<text x="391.8" y="82.87" font-size="7.45" text-anchor="end" fill="#1c1c1c" color="#1c1c1c">LPC 24:0</text>
<text x="391.8" y="92.69" font-size="7.45" text-anchor="end" fill="#1c1c1c" color="#1c1c1c">PC 16:0−18:1</text>
<text x="391.8" y="102.51" font-size="7.45" text-anchor="end" fill="#1c1c1c" color="#1c1c1c">PC 18:0−22:6</text>
<text x="391.8" y="112.33" font-size="7.45" text-anchor="end" fill="#1c1c1c" color="#1c1c1c">PC 18:1−18:0</text>
<text x="409.3" y="39.4" font-size="7.45" text-anchor="middle" fill="#1c1c1c" color="#1c1c1c">Ctrl</text>
<text x="438.6" y="39.4" font-size="7.45" text-anchor="middle" fill="#1c1c1c" color="#1c1c1c">Collagen</text>
<text x="467.9" y="39.4" font-size="7.45" text-anchor="middle" fill="#1c1c1c" color="#1c1c1c">HHcy</text>
<text x="497.3" y="30.3" font-size="7.45" text-anchor="middle" fill="#1c1c1c" color="#1c1c1c">HHcy+</text>
<text x="497.3" y="39.4" font-size="7.45" text-anchor="middle" fill="#1c1c1c" color="#1c1c1c">Collagen</text>
<rect x="406.6" y="119.7" width="96.2" height="5.2" fill="url(#gC)" stroke="#333" stroke-width="0.4"/>
<text x="413.9" y="135" font-size="7.45" text-anchor="middle" fill="#1c1c1c" color="#1c1c1c">−2</text>
<text x="434.7" y="135" font-size="7.45" text-anchor="middle" fill="#1c1c1c" color="#1c1c1c">−1</text>
<text x="455.3" y="135" font-size="7.45" text-anchor="middle" fill="#1c1c1c" color="#1c1c1c">0</text>
<text x="474.3" y="135" font-size="7.45" text-anchor="middle" fill="#1c1c1c" color="#1c1c1c">1</text>
<text x="493.8" y="135" font-size="7.45" text-anchor="middle" fill="#1c1c1c" color="#1c1c1c">2</text>
<text x="9.7" y="183.35" font-size="11.5" font-weight="bold" fill="#000" color="#000" textLength="7.47" lengthAdjust="spacingAndGlyphs">D</text>
<circle cx="38.4" cy="190.4" r="1.25" fill="#c8102e"/>
<text x="42.9" y="193" font-size="7.15" fill="#1c1c1c" color="#1c1c1c">Ctrl</text>
<rect x="37.15" y="197.15" width="2.5" height="2.5" fill="#1b5a98"/>
<text x="42.9" y="201" font-size="7.15" fill="#1c1c1c" color="#1c1c1c">Collagen</text>
<path d="M38.4 205 L37.02 207.5 L39.77 207.5Z" fill="#3db54a"/>
<text x="42.9" y="209.1" font-size="7.15" fill="#1c1c1c" color="#1c1c1c">HHcy</text>
<path d="M38.4 216 L37.02 213.5 L39.77 213.5Z" fill="#5e2a84"/>
<text x="42.9" y="217.1" font-size="7.15" fill="#1c1c1c" color="#1c1c1c">HHcy+Collagen</text>
<line x1="28.7" y1="198.9" x2="28.7" y2="258.5" stroke="#1a1a1a" stroke-width="1.3"/>
<line x1="26.5" y1="199.2" x2="28.7" y2="199.2" stroke="#1a1a1a" stroke-width="0.9"/>
<text x="24.3" y="201.9" font-size="7.45" text-anchor="end" fill="#1c1c1c" color="#1c1c1c">8</text>
<line x1="26.5" y1="213.9" x2="28.7" y2="213.9" stroke="#1a1a1a" stroke-width="0.9"/>
<text x="24.3" y="216.6" font-size="7.45" text-anchor="end" fill="#1c1c1c" color="#1c1c1c">6</text>
<line x1="26.5" y1="228.6" x2="28.7" y2="228.6" stroke="#1a1a1a" stroke-width="0.9"/>
<text x="24.3" y="231.3" font-size="7.45" text-anchor="end" fill="#1c1c1c" color="#1c1c1c">4</text>
<line x1="26.5" y1="243.3" x2="28.7" y2="243.3" stroke="#1a1a1a" stroke-width="0.9"/>
<text x="24.3" y="246" font-size="7.45" text-anchor="end" fill="#1c1c1c" color="#1c1c1c">2</text>
<line x1="26.5" y1="258" x2="28.7" y2="258" stroke="#1a1a1a" stroke-width="0.9"/>
<text x="24.3" y="260.7" font-size="7.45" text-anchor="end" fill="#1c1c1c" color="#1c1c1c">0</text>
<rect x="32.9" y="249.91" width="6.6" height="8.09" fill="#e9a2ae"/>
<line x1="36.2" y1="249.39" x2="36.2" y2="250.44" stroke="#c8102e" stroke-width="0.9"/>
<line x1="34.75" y1="249.39" x2="37.65" y2="249.39" stroke="#c8102e" stroke-width="0.9"/>
<line x1="34.75" y1="250.44" x2="37.65" y2="250.44" stroke="#c8102e" stroke-width="0.9"/>
<circle cx="34.94" cy="250" r="1.2" fill="#c8102e"/>
<circle cx="35.58" cy="250.11" r="1.2" fill="#c8102e"/>
<circle cx="36.8" cy="249.08" r="1.2" fill="#c8102e"/>
<circle cx="33.86" cy="250.56" r="1.2" fill="#c8102e"/>
<circle cx="35.04" cy="249.41" r="1.2" fill="#c8102e"/>
<rect x="42.1" y="244.77" width="6.6" height="13.23" fill="#a2b9d3"/>
<line x1="45.4" y1="243.36" x2="45.4" y2="246.18" stroke="#1b5a98" stroke-width="0.9"/>
<line x1="43.95" y1="243.36" x2="46.85" y2="243.36" stroke="#1b5a98" stroke-width="0.9"/>
<line x1="43.95" y1="246.18" x2="46.85" y2="246.18" stroke="#1b5a98" stroke-width="0.9"/>
<rect x="46.58" y="243.42" width="2.4" height="2.4" fill="#1b5a98"/>
<rect x="45.82" y="243.45" width="2.4" height="2.4" fill="#1b5a98"/>
<rect x="44.87" y="241.77" width="2.4" height="2.4" fill="#1b5a98"/>
<rect x="44.85" y="245.46" width="2.4" height="2.4" fill="#1b5a98"/>
<rect x="44.31" y="244.81" width="2.4" height="2.4" fill="#1b5a98"/>
<rect x="51.3" y="252.12" width="6.6" height="5.88" fill="#b2deb0"/>
<line x1="54.6" y1="251.76" x2="54.6" y2="252.48" stroke="#3db54a" stroke-width="0.9"/>
<line x1="53.15" y1="251.76" x2="56.05" y2="251.76" stroke="#3db54a" stroke-width="0.9"/>
<line x1="53.15" y1="252.48" x2="56.05" y2="252.48" stroke="#3db54a" stroke-width="0.9"/>
<path d="M55.42 250.1 L54.1 252.5 L56.74 252.5Z" fill="#3db54a"/>
<path d="M55.84 250.8 L54.52 253.2 L57.16 253.2Z" fill="#3db54a"/>
<path d="M53.65 250.06 L52.33 252.46 L54.97 252.46Z" fill="#3db54a"/>
<path d="M56.35 250.64 L55.03 253.04 L57.67 253.04Z" fill="#3db54a"/>
<path d="M55.65 251.18 L54.33 253.58 L56.97 253.58Z" fill="#3db54a"/>
<rect x="60.5" y="236.32" width="6.6" height="21.68" fill="#c4abd0"/>
<line x1="63.8" y1="235.83" x2="63.8" y2="236.8" stroke="#5e2a84" stroke-width="0.9"/>
<line x1="62.35" y1="235.83" x2="65.25" y2="235.83" stroke="#5e2a84" stroke-width="0.9"/>
<line x1="62.35" y1="236.8" x2="65.25" y2="236.8" stroke="#5e2a84" stroke-width="0.9"/>
<path d="M64.83 238.5 L63.51 236.1 L66.15 236.1Z" fill="#5e2a84"/>
<path d="M63.3 238.29 L61.98 235.89 L64.62 235.89Z" fill="#5e2a84"/>
<path d="M63.53 238.53 L62.21 236.13 L64.85 236.13Z" fill="#5e2a84"/>
<path d="M65.62 237.05 L64.3 234.65 L66.94 234.65Z" fill="#5e2a84"/>
<path d="M62.05 237.26 L60.73 234.86 L63.37 234.86Z" fill="#5e2a84"/>
<circle cx="45.8" cy="237.1" r="0.95" fill="#1a1a1a"/>
<circle cx="61.2" cy="229" r="0.95" fill="#1a1a1a"/>
<path d="M64.7 226.9V231.5M66.3 226.9V231.5M63.6 228.4H67.4M63.6 230H67.4" stroke="#333" stroke-width="0.7" fill="none"/>
<line x1="50" y1="258" x2="50" y2="260.6" stroke="#1a1a1a" stroke-width="0.9"/>
<text x="53" y="268.4" font-size="7.45" text-anchor="end" fill="#1c1c1c" color="#1c1c1c" transform="rotate(-35 53 268.4)">16:0 LPC</text>
<rect x="76.2" y="248.81" width="6.6" height="9.19" fill="#e9a2ae"/>
<line x1="79.5" y1="248.33" x2="79.5" y2="249.3" stroke="#c8102e" stroke-width="0.9"/>
<line x1="78.05" y1="248.33" x2="80.95" y2="248.33" stroke="#c8102e" stroke-width="0.9"/>
<line x1="78.05" y1="249.3" x2="80.95" y2="249.3" stroke="#c8102e" stroke-width="0.9"/>
<circle cx="81.73" cy="248.7" r="1.2" fill="#c8102e"/>
<circle cx="80.11" cy="248.46" r="1.2" fill="#c8102e"/>
<circle cx="79.53" cy="248.61" r="1.2" fill="#c8102e"/>
<circle cx="78.78" cy="248.96" r="1.2" fill="#c8102e"/>
<circle cx="79.9" cy="249.53" r="1.2" fill="#c8102e"/>
<rect x="85.4" y="239.99" width="6.6" height="18.01" fill="#a2b9d3"/>
<line x1="88.7" y1="238.78" x2="88.7" y2="241.21" stroke="#1b5a98" stroke-width="0.9"/>
<line x1="87.25" y1="238.78" x2="90.15" y2="238.78" stroke="#1b5a98" stroke-width="0.9"/>
<line x1="87.25" y1="241.21" x2="90.15" y2="241.21" stroke="#1b5a98" stroke-width="0.9"/>
<rect x="88.37" y="240.68" width="2.4" height="2.4" fill="#1b5a98"/>
<rect x="89.21" y="240.96" width="2.4" height="2.4" fill="#1b5a98"/>
<rect x="88.32" y="237.31" width="2.4" height="2.4" fill="#1b5a98"/>
<rect x="89.23" y="240.84" width="2.4" height="2.4" fill="#1b5a98"/>
<rect x="89.44" y="239.1" width="2.4" height="2.4" fill="#1b5a98"/>
<rect x="94.6" y="249.91" width="6.6" height="8.09" fill="#b2deb0"/>
<line x1="97.9" y1="249.51" x2="97.9" y2="250.32" stroke="#3db54a" stroke-width="0.9"/>
<line x1="96.45" y1="249.51" x2="99.35" y2="249.51" stroke="#3db54a" stroke-width="0.9"/>
<line x1="96.45" y1="250.32" x2="99.35" y2="250.32" stroke="#3db54a" stroke-width="0.9"/>
<path d="M98.93 248.05 L97.61 250.45 L100.25 250.45Z" fill="#3db54a"/>
<path d="M99.49 248.58 L98.17 250.98 L100.81 250.98Z" fill="#3db54a"/>
<path d="M96.87 247.83 L95.55 250.23 L98.19 250.23Z" fill="#3db54a"/>
<path d="M99.6 249.2 L98.28 251.6 L100.92 251.6Z" fill="#3db54a"/>
<path d="M95.92 248.92 L94.6 251.32 L97.24 251.32Z" fill="#3db54a"/>
<rect x="103.8" y="231.54" width="6.6" height="26.46" fill="#c4abd0"/>
<line x1="107.1" y1="229.52" x2="107.1" y2="233.56" stroke="#5e2a84" stroke-width="0.9"/>
<line x1="105.65" y1="229.52" x2="108.55" y2="229.52" stroke="#5e2a84" stroke-width="0.9"/>
<line x1="105.65" y1="233.56" x2="108.55" y2="233.56" stroke="#5e2a84" stroke-width="0.9"/>
<path d="M106.67 230.41 L105.35 228.01 L107.99 228.01Z" fill="#5e2a84"/>
<path d="M106.11 234.96 L104.79 232.56 L107.43 232.56Z" fill="#5e2a84"/>
<path d="M108.89 229.63 L107.57 227.23 L110.21 227.23Z" fill="#5e2a84"/>
<path d="M107.65 229.64 L106.33 227.24 L108.97 227.24Z" fill="#5e2a84"/>
<path d="M108.15 231.74 L106.83 229.34 L109.47 229.34Z" fill="#5e2a84"/>
<circle cx="88.6" cy="232.3" r="0.95" fill="#1a1a1a"/>
<circle cx="104.9" cy="219.7" r="0.95" fill="#1a1a1a"/>
<path d="M108.4 217.6V222.2M110 217.6V222.2M107.3 219.1H111.1M107.3 220.7H111.1" stroke="#333" stroke-width="0.7" fill="none"/>
<line x1="93.3" y1="258" x2="93.3" y2="260.6" stroke="#1a1a1a" stroke-width="0.9"/>
<text x="96.3" y="268.4" font-size="7.45" text-anchor="end" fill="#1c1c1c" color="#1c1c1c" transform="rotate(-35 96.3 268.4)">18:0 LPC</text>
<rect x="119.5" y="250.28" width="6.6" height="7.72" fill="#e9a2ae"/>
<line x1="122.8" y1="249.8" x2="122.8" y2="250.77" stroke="#c8102e" stroke-width="0.9"/>
<line x1="121.35" y1="249.8" x2="124.25" y2="249.8" stroke="#c8102e" stroke-width="0.9"/>
<line x1="121.35" y1="250.77" x2="124.25" y2="250.77" stroke="#c8102e" stroke-width="0.9"/>
<circle cx="124.63" cy="251.13" r="1.2" fill="#c8102e"/>
<circle cx="122.83" cy="251.16" r="1.2" fill="#c8102e"/>
<circle cx="121.89" cy="249.54" r="1.2" fill="#c8102e"/>
<circle cx="123.28" cy="249.46" r="1.2" fill="#c8102e"/>
<circle cx="121.35" cy="250.12" r="1.2" fill="#c8102e"/>
<rect x="128.7" y="238.89" width="6.6" height="19.11" fill="#a2b9d3"/>
<line x1="132" y1="238.28" x2="132" y2="239.5" stroke="#1b5a98" stroke-width="0.9"/>
<line x1="130.55" y1="238.28" x2="133.45" y2="238.28" stroke="#1b5a98" stroke-width="0.9"/>
<line x1="130.55" y1="239.5" x2="133.45" y2="239.5" stroke="#1b5a98" stroke-width="0.9"/>
<rect x="131.33" y="236.93" width="2.4" height="2.4" fill="#1b5a98"/>
<rect x="128.6" y="238.5" width="2.4" height="2.4" fill="#1b5a98"/>
<rect x="129.91" y="238.7" width="2.4" height="2.4" fill="#1b5a98"/>
<rect x="132.7" y="237.42" width="2.4" height="2.4" fill="#1b5a98"/>
<rect x="130.61" y="237.73" width="2.4" height="2.4" fill="#1b5a98"/>
<rect x="137.9" y="251.02" width="6.6" height="6.98" fill="#b2deb0"/>
<line x1="141.2" y1="250.61" x2="141.2" y2="251.42" stroke="#3db54a" stroke-width="0.9"/>
<line x1="139.75" y1="250.61" x2="142.65" y2="250.61" stroke="#3db54a" stroke-width="0.9"/>
<line x1="139.75" y1="251.42" x2="142.65" y2="251.42" stroke="#3db54a" stroke-width="0.9"/>
<path d="M141.89 249.72 L140.57 252.12 L143.21 252.12Z" fill="#3db54a"/>
<path d="M141.48 249.75 L140.16 252.15 L142.8 252.15Z" fill="#3db54a"/>
<path d="M143.31 249.59 L141.99 251.99 L144.63 251.99Z" fill="#3db54a"/>
<path d="M140.87 249.9 L139.55 252.3 L142.19 252.3Z" fill="#3db54a"/>
<path d="M139.94 249.29 L138.62 251.69 L141.26 251.69Z" fill="#3db54a"/>
<rect x="147.1" y="221.25" width="6.6" height="36.75" fill="#c4abd0"/>
<line x1="150.4" y1="218.22" x2="150.4" y2="224.28" stroke="#5e2a84" stroke-width="0.9"/>
<line x1="148.95" y1="218.22" x2="151.85" y2="218.22" stroke="#5e2a84" stroke-width="0.9"/>
<line x1="148.95" y1="224.28" x2="151.85" y2="224.28" stroke="#5e2a84" stroke-width="0.9"/>
<path d="M152.69 222.92 L151.37 220.52 L154.01 220.52Z" fill="#5e2a84"/>
<path d="M150.63 217.3 L149.31 214.9 L151.95 214.9Z" fill="#5e2a84"/>
<path d="M149.99 223.57 L148.67 221.17 L151.31 221.17Z" fill="#5e2a84"/>
<path d="M148.1 223.97 L146.78 221.57 L149.42 221.57Z" fill="#5e2a84"/>
<path d="M151.03 217.84 L149.71 215.44 L152.35 215.44Z" fill="#5e2a84"/>
<circle cx="132.3" cy="232.8" r="0.95" fill="#1a1a1a"/>
<circle cx="147.9" cy="206.8" r="0.95" fill="#1a1a1a"/>
<path d="M151.4 204.7V209.3M153 204.7V209.3M150.3 206.2H154.1M150.3 207.8H154.1" stroke="#333" stroke-width="0.7" fill="none"/>
<line x1="136.6" y1="258" x2="136.6" y2="260.6" stroke="#1a1a1a" stroke-width="0.9"/>
<text x="139.6" y="268.4" font-size="7.45" text-anchor="end" fill="#1c1c1c" color="#1c1c1c" transform="rotate(-35 139.6 268.4)">18:1 LPC</text>
<rect x="162.9" y="249.91" width="6.6" height="8.09" fill="#e9a2ae"/>
<line x1="166.2" y1="249.47" x2="166.2" y2="250.36" stroke="#c8102e" stroke-width="0.9"/>
<line x1="164.75" y1="249.47" x2="167.65" y2="249.47" stroke="#c8102e" stroke-width="0.9"/>
<line x1="164.75" y1="250.36" x2="167.65" y2="250.36" stroke="#c8102e" stroke-width="0.9"/>
<circle cx="166.81" cy="249.86" r="1.2" fill="#c8102e"/>
<circle cx="167.06" cy="249.68" r="1.2" fill="#c8102e"/>
<circle cx="167.19" cy="250.3" r="1.2" fill="#c8102e"/>
<circle cx="163.91" cy="249.2" r="1.2" fill="#c8102e"/>
<circle cx="167.04" cy="250.66" r="1.2" fill="#c8102e"/>
<rect x="172.1" y="241.83" width="6.6" height="16.17" fill="#a2b9d3"/>
<line x1="175.4" y1="240.01" x2="175.4" y2="243.65" stroke="#1b5a98" stroke-width="0.9"/>
<line x1="173.95" y1="240.01" x2="176.85" y2="240.01" stroke="#1b5a98" stroke-width="0.9"/>
<line x1="173.95" y1="243.65" x2="176.85" y2="243.65" stroke="#1b5a98" stroke-width="0.9"/>
<rect x="173.01" y="240.34" width="2.4" height="2.4" fill="#1b5a98"/>
<rect x="174.64" y="239.44" width="2.4" height="2.4" fill="#1b5a98"/>
<rect x="173.55" y="239.39" width="2.4" height="2.4" fill="#1b5a98"/>
<rect x="173.57" y="241.26" width="2.4" height="2.4" fill="#1b5a98"/>
<rect x="173.24" y="239.82" width="2.4" height="2.4" fill="#1b5a98"/>
<rect x="181.3" y="250.65" width="6.6" height="7.35" fill="#b2deb0"/>
<line x1="184.6" y1="250.25" x2="184.6" y2="251.05" stroke="#3db54a" stroke-width="0.9"/>
<line x1="183.15" y1="250.25" x2="186.05" y2="250.25" stroke="#3db54a" stroke-width="0.9"/>
<line x1="183.15" y1="251.05" x2="186.05" y2="251.05" stroke="#3db54a" stroke-width="0.9"/>
<path d="M185.91 248.51 L184.59 250.91 L187.23 250.91Z" fill="#3db54a"/>
<path d="M184.93 249.56 L183.61 251.96 L186.25 251.96Z" fill="#3db54a"/>
<path d="M183.69 248.8 L182.37 251.2 L185.01 251.2Z" fill="#3db54a"/>
<path d="M186.06 248.83 L184.74 251.23 L187.38 251.23Z" fill="#3db54a"/>
<path d="M183.1 249.11 L181.78 251.51 L184.42 251.51Z" fill="#3db54a"/>
<rect x="190.5" y="227.87" width="6.6" height="30.13" fill="#c4abd0"/>
<line x1="193.8" y1="225.64" x2="193.8" y2="230.09" stroke="#5e2a84" stroke-width="0.9"/>
<line x1="192.35" y1="225.64" x2="195.25" y2="225.64" stroke="#5e2a84" stroke-width="0.9"/>
<line x1="192.35" y1="230.09" x2="195.25" y2="230.09" stroke="#5e2a84" stroke-width="0.9"/>
<path d="M194.75 226.09 L193.43 223.69 L196.07 223.69Z" fill="#5e2a84"/>
<path d="M192.95 227.96 L191.63 225.56 L194.27 225.56Z" fill="#5e2a84"/>
<path d="M195.4 228.81 L194.08 226.41 L196.72 226.41Z" fill="#5e2a84"/>
<path d="M195.51 226.63 L194.19 224.23 L196.83 224.23Z" fill="#5e2a84"/>
<path d="M193.02 230.52 L191.7 228.12 L194.34 228.12Z" fill="#5e2a84"/>
<circle cx="175.3" cy="231.8" r="0.95" fill="#1a1a1a"/>
<circle cx="191.5" cy="217.6" r="0.95" fill="#1a1a1a"/>
<path d="M195 215.5V220.1M196.6 215.5V220.1M193.9 217H197.7M193.9 218.6H197.7" stroke="#333" stroke-width="0.7" fill="none"/>
<line x1="180" y1="258" x2="180" y2="260.6" stroke="#1a1a1a" stroke-width="0.9"/>
<text x="183" y="268.4" font-size="7.45" text-anchor="end" fill="#1c1c1c" color="#1c1c1c" transform="rotate(-35 183 268.4)">24:0 LPC</text>
<line x1="29" y1="258" x2="200.3" y2="258" stroke="#1a1a1a" stroke-width="1.3"/>
<text x="13.6" y="227.2" font-size="8.4" text-anchor="middle" fill="#1c1c1c" color="#1c1c1c" transform="rotate(-90 13.6 227.2)" textLength="55" lengthAdjust="spacingAndGlyphs" style="stroke-width:0.35px">Relative abundance</text>
<text x="206.4" y="183.55" font-size="11.5" font-weight="bold" fill="#000" color="#000" textLength="6.9" lengthAdjust="spacingAndGlyphs">E</text>
<line x1="228.2" y1="198.18" x2="228.2" y2="258.3" stroke="#1a1a1a" stroke-width="1.3"/>
<line x1="225" y1="198.48" x2="228.2" y2="198.48" stroke="#1a1a1a" stroke-width="0.9"/>
<text x="223" y="201.18" font-size="7.45" text-anchor="end" fill="#1c1c1c" color="#1c1c1c">4</text>
<line x1="225" y1="213.31" x2="228.2" y2="213.31" stroke="#1a1a1a" stroke-width="0.9"/>
<text x="223" y="216.01" font-size="7.45" text-anchor="end" fill="#1c1c1c" color="#1c1c1c">3</text>
<line x1="225" y1="228.14" x2="228.2" y2="228.14" stroke="#1a1a1a" stroke-width="0.9"/>
<text x="223" y="230.84" font-size="7.45" text-anchor="end" fill="#1c1c1c" color="#1c1c1c">2</text>
<line x1="225" y1="242.97" x2="228.2" y2="242.97" stroke="#1a1a1a" stroke-width="0.9"/>
<text x="223" y="245.67" font-size="7.45" text-anchor="end" fill="#1c1c1c" color="#1c1c1c">1</text>
<line x1="225" y1="257.8" x2="228.2" y2="257.8" stroke="#1a1a1a" stroke-width="0.9"/>
<text x="223" y="260.5" font-size="7.45" text-anchor="end" fill="#1c1c1c" color="#1c1c1c">0</text>
<rect x="234.1" y="236.74" width="12.8" height="21.06" fill="#e9a2ae"/>
<line x1="240.5" y1="234.54" x2="240.5" y2="238.94" stroke="#c8102e" stroke-width="0.9"/>
<line x1="238.2" y1="234.54" x2="242.8" y2="234.54" stroke="#c8102e" stroke-width="0.9"/>
<line x1="238.2" y1="238.94" x2="242.8" y2="238.94" stroke="#c8102e" stroke-width="0.9"/>
<circle cx="238.6" cy="234.3" r="1.35" fill="#c8102e"/>
<circle cx="243.2" cy="236.5" r="1.35" fill="#c8102e"/>
<circle cx="240.5" cy="243.5" r="1.35" fill="#c8102e"/>
<line x1="240.5" y1="257.8" x2="240.5" y2="260.4" stroke="#1a1a1a" stroke-width="0.9"/>
<rect x="252.1" y="222.5" width="12.8" height="35.3" fill="#a2b9d3"/>
<line x1="258.5" y1="218.3" x2="258.5" y2="226.7" stroke="#1b5a98" stroke-width="0.9"/>
<line x1="256.2" y1="218.3" x2="260.8" y2="218.3" stroke="#1b5a98" stroke-width="0.9"/>
<line x1="256.2" y1="226.7" x2="260.8" y2="226.7" stroke="#1b5a98" stroke-width="0.9"/>
<rect x="254.65" y="214.15" width="2.7" height="2.7" fill="#1b5a98"/>
<rect x="259.65" y="215.65" width="2.7" height="2.7" fill="#1b5a98"/>
<rect x="254.65" y="227.45" width="2.7" height="2.7" fill="#1b5a98"/>
<rect x="259.65" y="227.45" width="2.7" height="2.7" fill="#1b5a98"/>
<line x1="258.5" y1="257.8" x2="258.5" y2="260.4" stroke="#1a1a1a" stroke-width="0.9"/>
<rect x="269.9" y="234.81" width="12.8" height="22.99" fill="#b2deb0"/>
<line x1="276.3" y1="232.31" x2="276.3" y2="237.31" stroke="#3db54a" stroke-width="0.9"/>
<line x1="274" y1="232.31" x2="278.6" y2="232.31" stroke="#3db54a" stroke-width="0.9"/>
<line x1="274" y1="237.31" x2="278.6" y2="237.31" stroke="#3db54a" stroke-width="0.9"/>
<path d="M277 227.38 L275.51 230.08 L278.49 230.08Z" fill="#3db54a"/>
<path d="M274 234.38 L272.51 237.08 L275.49 237.08Z" fill="#3db54a"/>
<path d="M279 234.88 L277.51 237.58 L280.49 237.58Z" fill="#3db54a"/>
<path d="M276.5 240.88 L275.01 243.58 L277.99 243.58Z" fill="#3db54a"/>
<line x1="276.3" y1="257.8" x2="276.3" y2="260.4" stroke="#1a1a1a" stroke-width="0.9"/>
<rect x="287.9" y="208.12" width="12.8" height="49.68" fill="#c4abd0"/>
<line x1="294.3" y1="206.32" x2="294.3" y2="209.92" stroke="#5e2a84" stroke-width="0.9"/>
<line x1="292" y1="206.32" x2="296.6" y2="206.32" stroke="#5e2a84" stroke-width="0.9"/>
<line x1="292" y1="209.92" x2="296.6" y2="209.92" stroke="#5e2a84" stroke-width="0.9"/>
<path d="M290.3 208.62 L288.81 205.92 L291.79 205.92Z" fill="#5e2a84"/>
<path d="M294.3 206.62 L292.81 203.92 L295.79 203.92Z" fill="#5e2a84"/>
<path d="M298.3 207.62 L296.81 204.92 L299.79 204.92Z" fill="#5e2a84"/>
<path d="M292 212.12 L290.51 209.42 L293.49 209.42Z" fill="#5e2a84"/>
<path d="M296.5 212.12 L295.01 209.42 L297.99 209.42Z" fill="#5e2a84"/>
<line x1="294.3" y1="257.8" x2="294.3" y2="260.4" stroke="#1a1a1a" stroke-width="0.9"/>
<circle cx="258.7" cy="208.4" r="0.95" fill="#1a1a1a"/>
<circle cx="291.3" cy="197.1" r="0.95" fill="#1a1a1a"/>
<path d="M294.8 195V199.6M296.4 195V199.6M293.7 196.5H297.5M293.7 198.1H297.5" stroke="#333" stroke-width="0.7" fill="none"/>
<line x1="228.2" y1="257.8" x2="306" y2="257.8" stroke="#1a1a1a" stroke-width="1.3"/>
<text x="243.5" y="268.2" font-size="7.45" text-anchor="end" fill="#1c1c1c" color="#1c1c1c" transform="rotate(-35 243.5 268.2)">Ctrl</text>
<text x="261.5" y="268.2" font-size="7.45" text-anchor="end" fill="#1c1c1c" color="#1c1c1c" transform="rotate(-35 261.5 268.2)">Collagen</text>
<text x="279.3" y="268.2" font-size="7.45" text-anchor="end" fill="#1c1c1c" color="#1c1c1c" transform="rotate(-35 279.3 268.2)">HHcy</text>
<text x="297.3" y="268.2" font-size="7.45" text-anchor="end" fill="#1c1c1c" color="#1c1c1c" transform="rotate(-35 297.3 268.2)">HHcy+Collagen</text>
<text x="211.6" y="228.6" font-size="8.1" text-anchor="middle" fill="#1c1c1c" color="#1c1c1c" transform="rotate(-90 211.6 228.6)" textLength="39.5" lengthAdjust="spacingAndGlyphs" style="stroke-width:0.35px">cPLA2 activity</text>
<text x="314" y="183.55" font-size="11.5" font-weight="bold" fill="#000" color="#000" textLength="6.32" lengthAdjust="spacingAndGlyphs">F</text>
<text x="378.1" y="193.4" font-size="7.45" text-anchor="middle" fill="#1c1c1c" color="#1c1c1c">Plasma</text>
<line x1="346.5" y1="198.9" x2="346.5" y2="257.9" stroke="#1a1a1a" stroke-width="1.3"/>
<line x1="343.5" y1="199.2" x2="346.5" y2="199.2" stroke="#1a1a1a" stroke-width="0.9"/>
<text x="340.9" y="201.9" font-size="7.45" text-anchor="end" fill="#1c1c1c" color="#1c1c1c">1000</text>
<line x1="343.5" y1="218.6" x2="346.5" y2="218.6" stroke="#1a1a1a" stroke-width="0.9"/>
<text x="340.9" y="221.3" font-size="7.45" text-anchor="end" fill="#1c1c1c" color="#1c1c1c">2000</text>
<line x1="343.5" y1="238" x2="346.5" y2="238" stroke="#1a1a1a" stroke-width="0.9"/>
<text x="340.9" y="240.7" font-size="7.45" text-anchor="end" fill="#1c1c1c" color="#1c1c1c">1000</text>
<line x1="343.5" y1="257.4" x2="346.5" y2="257.4" stroke="#1a1a1a" stroke-width="0.9"/>
<text x="340.9" y="260.1" font-size="7.45" text-anchor="end" fill="#1c1c1c" color="#1c1c1c">0</text>
<rect x="355.5" y="225.9" width="18.4" height="31.8" fill="#e9a2ae"/>
<line x1="364.7" y1="222.9" x2="364.7" y2="228.9" stroke="#c8102e" stroke-width="0.9"/>
<line x1="362.4" y1="222.9" x2="367" y2="222.9" stroke="#c8102e" stroke-width="0.9"/>
<line x1="362.4" y1="228.9" x2="367" y2="228.9" stroke="#c8102e" stroke-width="0.9"/>
<circle cx="364.4" cy="219.2" r="1.4" fill="#c8102e"/>
<circle cx="362" cy="230.8" r="1.4" fill="#c8102e"/>
<circle cx="366.8" cy="230.2" r="1.4" fill="#c8102e"/>
<rect x="381.9" y="210.2" width="18.6" height="47.5" fill="#a2b9d3"/>
<line x1="391.2" y1="206.2" x2="391.2" y2="214.2" stroke="#1b5a98" stroke-width="0.9"/>
<line x1="388.9" y1="206.2" x2="393.5" y2="206.2" stroke="#1b5a98" stroke-width="0.9"/>
<line x1="388.9" y1="214.2" x2="393.5" y2="214.2" stroke="#1b5a98" stroke-width="0.9"/>
<rect x="388" y="203.6" width="2.8" height="2.8" fill="#1b5a98"/>
<rect x="392.8" y="202.1" width="2.8" height="2.8" fill="#1b5a98"/>
<rect x="390.1" y="216.6" width="2.8" height="2.8" fill="#1b5a98"/>
<line x1="346.5" y1="257.7" x2="409" y2="257.7" stroke="#1a1a1a" stroke-width="1.3"/>
<line x1="364.7" y1="257.7" x2="364.7" y2="260.3" stroke="#1a1a1a" stroke-width="0.9"/>
<text x="364.7" y="270.3" font-size="7.45" text-anchor="middle" fill="#1c1c1c" color="#1c1c1c">Ctrl</text>
<line x1="391.2" y1="257.7" x2="391.2" y2="260.3" stroke="#1a1a1a" stroke-width="0.9"/>
<text x="391.2" y="270.3" font-size="7.45" text-anchor="middle" fill="#1c1c1c" color="#1c1c1c">HHcy</text>
<text x="318.3" y="228.5" font-size="8.4" text-anchor="middle" fill="#1c1c1c" color="#1c1c1c" transform="rotate(-90 318.3 228.5)" textLength="36" lengthAdjust="spacingAndGlyphs" style="stroke-width:0.35px">ATX (pg/mL)</text>
<circle cx="391" cy="198.8" r="0.95" fill="#1a1a1a"/>
<text x="411.9" y="183.85" font-size="11.5" font-weight="bold" fill="#000" color="#000" textLength="8.05" lengthAdjust="spacingAndGlyphs">G</text>
<text x="480.9" y="193.4" font-size="7.45" text-anchor="middle" fill="#1c1c1c" color="#1c1c1c">Plasma</text>
<line x1="449.1" y1="198.5" x2="449.1" y2="258.2" stroke="#1a1a1a" stroke-width="1.3"/>
<line x1="446.1" y1="198.8" x2="449.1" y2="198.8" stroke="#1a1a1a" stroke-width="0.9"/>
<text x="443.5" y="201.5" font-size="7.45" text-anchor="end" fill="#1c1c1c" color="#1c1c1c">1500</text>
<line x1="446.1" y1="218.5" x2="449.1" y2="218.5" stroke="#1a1a1a" stroke-width="0.9"/>
<text x="443.5" y="221.2" font-size="7.45" text-anchor="end" fill="#1c1c1c" color="#1c1c1c">1000</text>
<line x1="446.1" y1="238.2" x2="449.1" y2="238.2" stroke="#1a1a1a" stroke-width="0.9"/>
<text x="443.5" y="240.9" font-size="7.45" text-anchor="end" fill="#1c1c1c" color="#1c1c1c">500</text>
<line x1="446.1" y1="257.7" x2="449.1" y2="257.7" stroke="#1a1a1a" stroke-width="0.9"/>
<text x="443.5" y="260.4" font-size="7.45" text-anchor="end" fill="#1c1c1c" color="#1c1c1c">0</text>
<rect x="458.2" y="240.1" width="18.8" height="17.6" fill="#e9a2ae"/>
<line x1="467.6" y1="235.6" x2="467.6" y2="244.6" stroke="#c8102e" stroke-width="0.9"/>
<line x1="465.3" y1="235.6" x2="469.9" y2="235.6" stroke="#c8102e" stroke-width="0.9"/>
<line x1="465.3" y1="244.6" x2="469.9" y2="244.6" stroke="#c8102e" stroke-width="0.9"/>
<circle cx="467.6" cy="231.2" r="1.4" fill="#c8102e"/>
<circle cx="465" cy="248.5" r="1.4" fill="#c8102e"/>
<circle cx="470.5" cy="246" r="1.4" fill="#c8102e"/>
<rect x="485.1" y="218.9" width="18.6" height="38.8" fill="#a2b9d3"/>
<line x1="494.4" y1="212.7" x2="494.4" y2="225.1" stroke="#1b5a98" stroke-width="0.9"/>
<line x1="492.1" y1="212.7" x2="496.7" y2="212.7" stroke="#1b5a98" stroke-width="0.9"/>
<line x1="492.1" y1="225.1" x2="496.7" y2="225.1" stroke="#1b5a98" stroke-width="0.9"/>
<rect x="492.8" y="205.6" width="2.8" height="2.8" fill="#1b5a98"/>
<rect x="492.6" y="210.6" width="2.8" height="2.8" fill="#1b5a98"/>
<rect x="493.1" y="220.6" width="2.8" height="2.8" fill="#1b5a98"/>
<rect x="492.9" y="235.1" width="2.8" height="2.8" fill="#1b5a98"/>
<line x1="449.1" y1="257.7" x2="513" y2="257.7" stroke="#1a1a1a" stroke-width="1.3"/>
<line x1="467.6" y1="257.7" x2="467.6" y2="260.3" stroke="#1a1a1a" stroke-width="0.9"/>
<text x="467.6" y="270.3" font-size="7.45" text-anchor="middle" fill="#1c1c1c" color="#1c1c1c">Ctrl</text>
<line x1="494.3" y1="257.7" x2="494.3" y2="260.3" stroke="#1a1a1a" stroke-width="0.9"/>
<text x="494.3" y="270.3" font-size="7.45" text-anchor="middle" fill="#1c1c1c" color="#1c1c1c">HHcy</text>
<text x="421" y="228.5" font-size="8.4" text-anchor="middle" fill="#1c1c1c" color="#1c1c1c" transform="rotate(-90 421 228.5)" textLength="36" lengthAdjust="spacingAndGlyphs" style="stroke-width:0.35px">LPA (ng/mL)</text>
<circle cx="494.2" cy="199.9" r="0.95" fill="#1a1a1a"/>
<text x="9.8" y="317.05" font-size="11.5" font-weight="bold" fill="#000" color="#000" textLength="7.47" lengthAdjust="spacingAndGlyphs">H</text>
<text x="54.2" y="343.4" font-size="7.45" text-anchor="middle" fill="#1c1c1c" color="#1c1c1c">Ctrl</text>
<text x="80.8" y="343.4" font-size="7.45" text-anchor="middle" fill="#1c1c1c" color="#1c1c1c">HHcy</text>
<defs><filter id="bl658" x="-20%" y="-60%" width="140%" height="220%"><feGaussianBlur stdDeviation="0.45"/></filter></defs>
<rect x="42.6" y="346.3" width="54.3" height="12.9" fill="#e6e6e6" stroke="#000" stroke-width="1.25"/>
<rect x="45.3" y="350.9" width="21.2" height="3.8" rx="3.4" ry="1.9" fill="#111" filter="url(#bl658)"/>
<rect x="71.3" y="351.75" width="21.2" height="2.3" rx="2.65" ry="1.15" fill="#2a2a2a" filter="url(#bl658)"/>
<defs><filter id="bl662" x="-20%" y="-60%" width="140%" height="220%"><feGaussianBlur stdDeviation="0.45"/></filter></defs>
<rect x="42.6" y="361.5" width="54.3" height="13.1" fill="#d6d6d6" stroke="#000" stroke-width="1.25"/>
<rect x="43.8" y="364.1" width="24.8" height="5.8" rx="4.4" ry="2.9" fill="#000" filter="url(#bl662)"/>
<rect x="70" y="364.2" width="25.5" height="5.6" rx="4.3" ry="2.8" fill="#000" filter="url(#bl662)"/>
<text x="38.8" y="355.5" font-size="7.45" text-anchor="end" fill="#1c1c1c" color="#1c1c1c">ATX</text>
<text x="39.2" y="369.7" font-size="7.45" text-anchor="end" fill="#1c1c1c" color="#1c1c1c">β-Actin</text>
<line x1="155.2" y1="333.6" x2="155.2" y2="392.7" stroke="#1a1a1a" stroke-width="1.3"/>
<line x1="152" y1="333.9" x2="155.2" y2="333.9" stroke="#1a1a1a" stroke-width="0.9"/>
<text x="149.4" y="336.6" font-size="7.45" text-anchor="end" fill="#1c1c1c" color="#1c1c1c">1.0</text>
<line x1="152" y1="344.7" x2="155.2" y2="344.7" stroke="#1a1a1a" stroke-width="0.9"/>
<text x="149.4" y="347.4" font-size="7.45" text-anchor="end" fill="#1c1c1c" color="#1c1c1c">0.9</text>
<line x1="152" y1="357.1" x2="155.2" y2="357.1" stroke="#1a1a1a" stroke-width="0.9"/>
<text x="149.4" y="359.8" font-size="7.45" text-anchor="end" fill="#1c1c1c" color="#1c1c1c">0.8</text>
<line x1="152" y1="368.8" x2="155.2" y2="368.8" stroke="#1a1a1a" stroke-width="0.9"/>
<text x="149.4" y="371.5" font-size="7.45" text-anchor="end" fill="#1c1c1c" color="#1c1c1c">0.7</text>
<line x1="152" y1="380.5" x2="155.2" y2="380.5" stroke="#1a1a1a" stroke-width="0.9"/>
<text x="149.4" y="383.2" font-size="7.45" text-anchor="end" fill="#1c1c1c" color="#1c1c1c">0.6</text>
<line x1="152" y1="392.2" x2="155.2" y2="392.2" stroke="#1a1a1a" stroke-width="0.9"/>
<text x="149.4" y="394.9" font-size="7.45" text-anchor="end" fill="#1c1c1c" color="#1c1c1c">0.5</text>
<rect x="163.9" y="343.7" width="18.6" height="48.5" fill="#e9a2ae"/>
<line x1="173.2" y1="342.1" x2="173.2" y2="345.3" stroke="#c8102e" stroke-width="0.9"/>
<line x1="170.9" y1="342.1" x2="175.5" y2="342.1" stroke="#c8102e" stroke-width="0.9"/>
<line x1="170.9" y1="345.3" x2="175.5" y2="345.3" stroke="#c8102e" stroke-width="0.9"/>
<circle cx="173.2" cy="340" r="1.3" fill="#c8102e"/>
<circle cx="170.9" cy="345.3" r="1.3" fill="#c8102e"/>
<circle cx="175.6" cy="345.3" r="1.3" fill="#c8102e"/>
<circle cx="173.2" cy="342.5" r="1.3" fill="#c8102e"/>
<rect x="190.3" y="378.3" width="18.8" height="13.9" fill="#a2b9d3"/>
<line x1="199.7" y1="376.5" x2="199.7" y2="380.1" stroke="#1b5a98" stroke-width="0.9"/>
<line x1="197.4" y1="376.5" x2="202" y2="376.5" stroke="#1b5a98" stroke-width="0.9"/>
<line x1="197.4" y1="380.1" x2="202" y2="380.1" stroke="#1b5a98" stroke-width="0.9"/>
<rect x="195.7" y="375.7" width="2.6" height="2.6" fill="#1b5a98"/>
<rect x="201.2" y="375.7" width="2.6" height="2.6" fill="#1b5a98"/>
<rect x="198.4" y="380.2" width="2.6" height="2.6" fill="#1b5a98"/>
<rect x="198.4" y="378.2" width="2.6" height="2.6" fill="#1b5a98"/>
<line x1="154.7" y1="392.2" x2="218.2" y2="392.2" stroke="#1a1a1a" stroke-width="1.3"/>
<line x1="173.2" y1="392.2" x2="173.2" y2="394.8" stroke="#1a1a1a" stroke-width="0.9"/>
<text x="173.2" y="404.3" font-size="7.45" text-anchor="middle" fill="#1c1c1c" color="#1c1c1c">Ctrl</text>
<line x1="199.7" y1="392.2" x2="199.7" y2="394.8" stroke="#1a1a1a" stroke-width="0.9"/>
<text x="199.7" y="404.3" font-size="7.45" text-anchor="middle" fill="#1c1c1c" color="#1c1c1c">HHcy</text>
<circle cx="199.5" cy="368.7" r="0.95" fill="#1a1a1a"/>
<text x="122.2" y="363.5" font-size="8.4" text-anchor="middle" fill="#1c1c1c" color="#1c1c1c" transform="rotate(-90 122.2 363.5)" textLength="34" lengthAdjust="spacingAndGlyphs" style="stroke-width:0.35px">ATX/β-actin</text>
<text x="133.3" y="363.5" font-size="8.4" text-anchor="middle" fill="#1c1c1c" color="#1c1c1c" transform="rotate(-90 133.3 363.5)" textLength="58" lengthAdjust="spacingAndGlyphs" style="stroke-width:0.35px">relative protein levels</text>
<text x="238.2" y="317.15" font-size="11.5" font-weight="bold" fill="#000" color="#000" textLength="2.88" lengthAdjust="spacingAndGlyphs">I</text>
<line x1="275.4" y1="333.7" x2="275.4" y2="393" stroke="#1a1a1a" stroke-width="1.3"/>
<line x1="272.2" y1="334" x2="275.4" y2="334" stroke="#1a1a1a" stroke-width="0.9"/>
<text x="269" y="336.7" font-size="7.45" text-anchor="end" fill="#1c1c1c" color="#1c1c1c">200</text>
<line x1="272.2" y1="348.6" x2="275.4" y2="348.6" stroke="#1a1a1a" stroke-width="0.9"/>
<text x="269" y="351.3" font-size="7.45" text-anchor="end" fill="#1c1c1c" color="#1c1c1c">150</text>
<line x1="272.2" y1="363.25" x2="275.4" y2="363.25" stroke="#1a1a1a" stroke-width="0.9"/>
<text x="269" y="365.95" font-size="7.45" text-anchor="end" fill="#1c1c1c" color="#1c1c1c">100</text>
<line x1="272.2" y1="377.9" x2="275.4" y2="377.9" stroke="#1a1a1a" stroke-width="0.9"/>
<text x="269" y="380.6" font-size="7.45" text-anchor="end" fill="#1c1c1c" color="#1c1c1c">50</text>
<line x1="272.2" y1="392.5" x2="275.4" y2="392.5" stroke="#1a1a1a" stroke-width="0.9"/>
<text x="269" y="395.2" font-size="7.45" text-anchor="end" fill="#1c1c1c" color="#1c1c1c">0</text>
<rect x="280.7" y="371.2" width="12.6" height="21.3" fill="#e9a2ae"/>
<line x1="287" y1="368.7" x2="287" y2="373.7" stroke="#c8102e" stroke-width="0.9"/>
<line x1="284.7" y1="368.7" x2="289.3" y2="368.7" stroke="#c8102e" stroke-width="0.9"/>
<line x1="284.7" y1="373.7" x2="289.3" y2="373.7" stroke="#c8102e" stroke-width="0.9"/>
<circle cx="284.5" cy="368.5" r="1.3" fill="#c8102e"/>
<circle cx="289" cy="368.5" r="1.3" fill="#c8102e"/>
<circle cx="287" cy="373" r="1.3" fill="#c8102e"/>
<rect x="298.7" y="356.9" width="12.6" height="35.6" fill="#a2b9d3"/>
<line x1="305" y1="354.9" x2="305" y2="358.9" stroke="#1b5a98" stroke-width="0.9"/>
<line x1="302.7" y1="354.9" x2="307.3" y2="354.9" stroke="#1b5a98" stroke-width="0.9"/>
<line x1="302.7" y1="358.9" x2="307.3" y2="358.9" stroke="#1b5a98" stroke-width="0.9"/>
<rect x="301.2" y="354.7" width="2.6" height="2.6" fill="#1b5a98"/>
<rect x="303.7" y="356.7" width="2.6" height="2.6" fill="#1b5a98"/>
<rect x="306.7" y="356.2" width="2.6" height="2.6" fill="#1b5a98"/>
<rect x="303.7" y="353.7" width="2.6" height="2.6" fill="#1b5a98"/>
<rect x="316.6" y="370.9" width="12.6" height="21.6" fill="#b2deb0"/>
<line x1="322.9" y1="367.9" x2="322.9" y2="373.9" stroke="#3db54a" stroke-width="0.9"/>
<line x1="320.6" y1="367.9" x2="325.2" y2="367.9" stroke="#3db54a" stroke-width="0.9"/>
<line x1="320.6" y1="373.9" x2="325.2" y2="373.9" stroke="#3db54a" stroke-width="0.9"/>
<path d="M320.5 370.44 L319.07 373.04 L321.93 373.04Z" fill="#3db54a"/>
<path d="M324.5 367.44 L323.07 370.04 L325.93 370.04Z" fill="#3db54a"/>
<path d="M323 366.94 L321.57 369.54 L324.43 369.54Z" fill="#3db54a"/>
<rect x="334.7" y="340.8" width="12.6" height="51.7" fill="#c4abd0"/>
<line x1="341" y1="339.8" x2="341" y2="341.8" stroke="#5e2a84" stroke-width="0.9"/>
<line x1="338.7" y1="339.8" x2="343.3" y2="339.8" stroke="#5e2a84" stroke-width="0.9"/>
<line x1="338.7" y1="341.8" x2="343.3" y2="341.8" stroke="#5e2a84" stroke-width="0.9"/>
<path d="M338.5 342.06 L337.07 339.46 L339.93 339.46Z" fill="#5e2a84"/>
<path d="M341 341.56 L339.57 338.96 L342.43 338.96Z" fill="#5e2a84"/>
<path d="M343.5 342.06 L342.07 339.46 L344.93 339.46Z" fill="#5e2a84"/>
<line x1="274.9" y1="392.5" x2="353.3" y2="392.5" stroke="#1a1a1a" stroke-width="1.3"/>
<line x1="287" y1="392.5" x2="287" y2="395.1" stroke="#1a1a1a" stroke-width="0.9"/>
<text x="290" y="402.9" font-size="7.45" text-anchor="end" fill="#1c1c1c" color="#1c1c1c" transform="rotate(-35 290 402.9)">Ctrl</text>
<line x1="305" y1="392.5" x2="305" y2="395.1" stroke="#1a1a1a" stroke-width="0.9"/>
<text x="308" y="402.9" font-size="7.45" text-anchor="end" fill="#1c1c1c" color="#1c1c1c" transform="rotate(-35 308 402.9)">Collagen</text>
<line x1="322.9" y1="392.5" x2="322.9" y2="395.1" stroke="#1a1a1a" stroke-width="0.9"/>
<text x="325.9" y="402.9" font-size="7.45" text-anchor="end" fill="#1c1c1c" color="#1c1c1c" transform="rotate(-35 325.9 402.9)">Hcy</text>
<line x1="341" y1="392.5" x2="341" y2="395.1" stroke="#1a1a1a" stroke-width="0.9"/>
<text x="344" y="402.9" font-size="7.45" text-anchor="end" fill="#1c1c1c" color="#1c1c1c" transform="rotate(-35 344 402.9)">Hcy+Collagen</text>
<text x="314" y="326" font-size="7.45" text-anchor="middle" fill="#1c1c1c" color="#1c1c1c">Supernatant</text>
<text x="250.2" y="363.7" font-size="8.4" text-anchor="middle" fill="#1c1c1c" color="#1c1c1c" transform="rotate(-90 250.2 363.7)" textLength="36" lengthAdjust="spacingAndGlyphs" style="stroke-width:0.35px">ATX (pg/mL)</text>
<circle cx="304.9" cy="348.8" r="0.95" fill="#1a1a1a"/>
<circle cx="338.2" cy="331.3" r="0.95" fill="#1a1a1a"/>
<path d="M341.7 329.2V333.8M343.3 329.2V333.8M340.6 330.7H344.4M340.6 332.3H344.4" stroke="#333" stroke-width="0.7" fill="none"/>
<path d="M380.45 308.9V313.9Q380.45 316.1 378.2 316.1H377.8" stroke="#000" stroke-width="1.75" fill="none"/>
<line x1="415.4" y1="333.7" x2="415.4" y2="393" stroke="#1a1a1a" stroke-width="1.3"/>
<line x1="412.2" y1="334" x2="415.4" y2="334" stroke="#1a1a1a" stroke-width="0.9"/>
<text x="409" y="336.7" font-size="7.45" text-anchor="end" fill="#1c1c1c" color="#1c1c1c">300</text>
<line x1="412.2" y1="353.5" x2="415.4" y2="353.5" stroke="#1a1a1a" stroke-width="0.9"/>
<text x="409" y="356.2" font-size="7.45" text-anchor="end" fill="#1c1c1c" color="#1c1c1c">200</text>
<line x1="412.2" y1="373" x2="415.4" y2="373" stroke="#1a1a1a" stroke-width="0.9"/>
<text x="409" y="375.7" font-size="7.45" text-anchor="end" fill="#1c1c1c" color="#1c1c1c">100</text>
<line x1="412.2" y1="392.5" x2="415.4" y2="392.5" stroke="#1a1a1a" stroke-width="0.9"/>
<text x="409" y="395.2" font-size="7.45" text-anchor="end" fill="#1c1c1c" color="#1c1c1c">0</text>
<rect x="420.7" y="370.4" width="12.6" height="22.1" fill="#e9a2ae"/>
<line x1="427" y1="369.4" x2="427" y2="371.4" stroke="#c8102e" stroke-width="0.9"/>
<line x1="424.7" y1="369.4" x2="429.3" y2="369.4" stroke="#c8102e" stroke-width="0.9"/>
<line x1="424.7" y1="371.4" x2="429.3" y2="371.4" stroke="#c8102e" stroke-width="0.9"/>
<circle cx="424.5" cy="370.5" r="1.3" fill="#c8102e"/>
<circle cx="427" cy="370" r="1.3" fill="#c8102e"/>
<circle cx="429.5" cy="370.5" r="1.3" fill="#c8102e"/>
<rect x="438.7" y="359.6" width="12.6" height="32.9" fill="#a2b9d3"/>
<line x1="445" y1="357.1" x2="445" y2="362.1" stroke="#1b5a98" stroke-width="0.9"/>
<line x1="442.7" y1="357.1" x2="447.3" y2="357.1" stroke="#1b5a98" stroke-width="0.9"/>
<line x1="442.7" y1="362.1" x2="447.3" y2="362.1" stroke="#1b5a98" stroke-width="0.9"/>
<rect x="441.2" y="359.7" width="2.6" height="2.6" fill="#1b5a98"/>
<rect x="443.7" y="356.7" width="2.6" height="2.6" fill="#1b5a98"/>
<rect x="446.2" y="356.2" width="2.6" height="2.6" fill="#1b5a98"/>
<rect x="442.2" y="362.2" width="2.6" height="2.6" fill="#1b5a98"/>
<rect x="456.6" y="369" width="12.6" height="23.5" fill="#b2deb0"/>
<line x1="462.9" y1="368" x2="462.9" y2="370" stroke="#3db54a" stroke-width="0.9"/>
<line x1="460.6" y1="368" x2="465.2" y2="368" stroke="#3db54a" stroke-width="0.9"/>
<line x1="460.6" y1="370" x2="465.2" y2="370" stroke="#3db54a" stroke-width="0.9"/>
<path d="M460.5 367.44 L459.07 370.04 L461.93 370.04Z" fill="#3db54a"/>
<path d="M463 367.94 L461.57 370.54 L464.43 370.54Z" fill="#3db54a"/>
<path d="M465.5 366.94 L464.07 369.54 L466.93 369.54Z" fill="#3db54a"/>
<rect x="474.7" y="346.7" width="12.6" height="45.8" fill="#c4abd0"/>
<line x1="481" y1="341.9" x2="481" y2="351.5" stroke="#5e2a84" stroke-width="0.9"/>
<line x1="478.7" y1="341.9" x2="483.3" y2="341.9" stroke="#5e2a84" stroke-width="0.9"/>
<line x1="478.7" y1="351.5" x2="483.3" y2="351.5" stroke="#5e2a84" stroke-width="0.9"/>
<path d="M478 345.56 L476.57 342.96 L479.43 342.96Z" fill="#5e2a84"/>
<path d="M481 339.56 L479.57 336.96 L482.43 336.96Z" fill="#5e2a84"/>
<path d="M483.5 348.06 L482.07 345.46 L484.93 345.46Z" fill="#5e2a84"/>
<path d="M481 353.56 L479.57 350.96 L482.43 350.96Z" fill="#5e2a84"/>
<line x1="414.9" y1="392.5" x2="493.3" y2="392.5" stroke="#1a1a1a" stroke-width="1.3"/>
<line x1="427" y1="392.5" x2="427" y2="395.1" stroke="#1a1a1a" stroke-width="0.9"/>
<text x="430" y="402.9" font-size="7.45" text-anchor="end" fill="#1c1c1c" color="#1c1c1c" transform="rotate(-35 430 402.9)">Ctrl</text>
<line x1="445" y1="392.5" x2="445" y2="395.1" stroke="#1a1a1a" stroke-width="0.9"/>
<text x="448" y="402.9" font-size="7.45" text-anchor="end" fill="#1c1c1c" color="#1c1c1c" transform="rotate(-35 448 402.9)">Collagen</text>
<line x1="462.9" y1="392.5" x2="462.9" y2="395.1" stroke="#1a1a1a" stroke-width="0.9"/>
<text x="465.9" y="402.9" font-size="7.45" text-anchor="end" fill="#1c1c1c" color="#1c1c1c" transform="rotate(-35 465.9 402.9)">Hcy</text>
<line x1="481" y1="392.5" x2="481" y2="395.1" stroke="#1a1a1a" stroke-width="0.9"/>
<text x="484" y="402.9" font-size="7.45" text-anchor="end" fill="#1c1c1c" color="#1c1c1c" transform="rotate(-35 484 402.9)">Hcy+Collagen</text>
<text x="454" y="326" font-size="7.45" text-anchor="middle" fill="#1c1c1c" color="#1c1c1c">Supernatant</text>
<text x="390.2" y="363.7" font-size="8.4" text-anchor="middle" fill="#1c1c1c" color="#1c1c1c" transform="rotate(-90 390.2 363.7)" textLength="36" lengthAdjust="spacingAndGlyphs" style="stroke-width:0.35px">LPA (ng/mL)</text>
<circle cx="444.9" cy="351" r="0.95" fill="#1a1a1a"/>
<circle cx="478.2" cy="333.5" r="0.95" fill="#1a1a1a"/>
<path d="M481.7 331.4V336M483.3 331.4V336M480.6 332.9H484.4M480.6 334.5H484.4" stroke="#333" stroke-width="0.7" fill="none"/>
<text x="9.8" y="451.25" font-size="11.5" font-weight="bold" fill="#000" color="#000" textLength="7.47" lengthAdjust="spacingAndGlyphs">K</text>
<text x="38.8" y="463" font-size="7.45" text-anchor="end" fill="#1c1c1c" color="#1c1c1c">Hcy</text>
<text x="38.8" y="472.9" font-size="7.45" text-anchor="end" fill="#1c1c1c" color="#1c1c1c">Collagen</text>
<text x="52" y="463" font-size="7.45" text-anchor="middle" fill="#1c1c1c" color="#1c1c1c">−</text>
<text x="52" y="472.9" font-size="7.45" text-anchor="middle" fill="#1c1c1c" color="#1c1c1c">−</text>
<text x="67.6" y="463" font-size="7.45" text-anchor="middle" fill="#1c1c1c" color="#1c1c1c">−</text>
<text x="67.6" y="472.9" font-size="7.45" text-anchor="middle" fill="#1c1c1c" color="#1c1c1c">+</text>
<text x="83.1" y="463" font-size="7.45" text-anchor="middle" fill="#1c1c1c" color="#1c1c1c">+</text>
<text x="83.1" y="472.9" font-size="7.45" text-anchor="middle" fill="#1c1c1c" color="#1c1c1c">−</text>
<text x="98.5" y="463" font-size="7.45" text-anchor="middle" fill="#1c1c1c" color="#1c1c1c">+</text>
<text x="98.5" y="472.9" font-size="7.45" text-anchor="middle" fill="#1c1c1c" color="#1c1c1c">+</text>
<defs><filter id="bl825" x="-20%" y="-60%" width="140%" height="220%"><feGaussianBlur stdDeviation="0.75"/></filter></defs>
<rect x="42.3" y="476.6" width="66.3" height="13.4" fill="#ebebeb" stroke="#000" stroke-width="1.25"/>
<rect x="45.4" y="481.9" width="13.1" height="3" rx="3" ry="1.5" fill="#333" filter="url(#bl825)"/>
<rect x="61" y="482.15" width="13.6" height="2.9" rx="2.95" ry="1.45" fill="#3c3c3c" filter="url(#bl825)"/>
<rect x="77.5" y="482.25" width="13.3" height="2.7" rx="2.85" ry="1.35" fill="#5a5a5a" filter="url(#bl825)"/>
<rect x="92.8" y="482.3" width="12.2" height="2.6" rx="2.8" ry="1.3" fill="#7a7a7a" filter="url(#bl825)"/>
<defs><filter id="bl831" x="-20%" y="-60%" width="140%" height="220%"><feGaussianBlur stdDeviation="0.45"/></filter></defs>
<rect x="42.3" y="491.4" width="66.3" height="13.1" fill="#e2e2e2" stroke="#000" stroke-width="1.25"/>
<rect x="44" y="496" width="15.8" height="3.8" rx="3.4" ry="1.9" fill="#000" filter="url(#bl831)"/>
<rect x="60.3" y="496" width="15" height="3.8" rx="3.4" ry="1.9" fill="#000" filter="url(#bl831)"/>
<rect x="76.5" y="496.05" width="15" height="3.7" rx="3.35" ry="1.85" fill="#000" filter="url(#bl831)"/>
<rect x="92.2" y="496.05" width="14.8" height="3.7" rx="3.35" ry="1.85" fill="#000" filter="url(#bl831)"/>
<text x="38.8" y="485.5" font-size="7.45" text-anchor="end" fill="#1c1c1c" color="#1c1c1c">ATX</text>
<text x="38.8" y="500.5" font-size="7.45" text-anchor="end" fill="#1c1c1c" color="#1c1c1c">β-Actin</text>
<line x1="154.5" y1="465.1" x2="154.5" y2="524.7" stroke="#1a1a1a" stroke-width="1.3"/>
<line x1="151.3" y1="465.4" x2="154.5" y2="465.4" stroke="#1a1a1a" stroke-width="0.9"/>
<text x="148.5" y="468.1" font-size="7.45" text-anchor="end" fill="#1c1c1c" color="#1c1c1c">0.4</text>
<line x1="151.3" y1="480.1" x2="154.5" y2="480.1" stroke="#1a1a1a" stroke-width="0.9"/>
<text x="148.5" y="482.8" font-size="7.45" text-anchor="end" fill="#1c1c1c" color="#1c1c1c">0.3</text>
<line x1="151.3" y1="494.8" x2="154.5" y2="494.8" stroke="#1a1a1a" stroke-width="0.9"/>
<text x="148.5" y="497.5" font-size="7.45" text-anchor="end" fill="#1c1c1c" color="#1c1c1c">0.2</text>
<line x1="151.3" y1="509.5" x2="154.5" y2="509.5" stroke="#1a1a1a" stroke-width="0.9"/>
<text x="148.5" y="512.2" font-size="7.45" text-anchor="end" fill="#1c1c1c" color="#1c1c1c">0.1</text>
<line x1="151.3" y1="524.2" x2="154.5" y2="524.2" stroke="#1a1a1a" stroke-width="0.9"/>
<text x="148.5" y="526.9" font-size="7.45" text-anchor="end" fill="#1c1c1c" color="#1c1c1c">0.0</text>
<rect x="160.8" y="482.2" width="12.2" height="42" fill="#e9a2ae"/>
<line x1="166.9" y1="479.7" x2="166.9" y2="484.7" stroke="#c8102e" stroke-width="0.9"/>
<line x1="164.6" y1="479.7" x2="169.2" y2="479.7" stroke="#c8102e" stroke-width="0.9"/>
<line x1="164.6" y1="484.7" x2="169.2" y2="484.7" stroke="#c8102e" stroke-width="0.9"/>
<circle cx="164.5" cy="483" r="1.3" fill="#c8102e"/>
<circle cx="167" cy="479.5" r="1.3" fill="#c8102e"/>
<circle cx="169.5" cy="482.5" r="1.3" fill="#c8102e"/>
<rect x="178.5" y="495.4" width="12.2" height="28.8" fill="#a2b9d3"/>
<line x1="184.6" y1="494.4" x2="184.6" y2="496.4" stroke="#1b5a98" stroke-width="0.9"/>
<line x1="182.3" y1="494.4" x2="186.9" y2="494.4" stroke="#1b5a98" stroke-width="0.9"/>
<line x1="182.3" y1="496.4" x2="186.9" y2="496.4" stroke="#1b5a98" stroke-width="0.9"/>
<rect x="180.7" y="494.2" width="2.6" height="2.6" fill="#1b5a98"/>
<rect x="183.3" y="493.2" width="2.6" height="2.6" fill="#1b5a98"/>
<rect x="185.7" y="494.2" width="2.6" height="2.6" fill="#1b5a98"/>
<rect x="182.7" y="495.2" width="2.6" height="2.6" fill="#1b5a98"/>
<rect x="196.5" y="483.8" width="12.2" height="40.4" fill="#b2deb0"/>
<line x1="202.6" y1="479.8" x2="202.6" y2="487.8" stroke="#3db54a" stroke-width="0.9"/>
<line x1="200.3" y1="479.8" x2="204.9" y2="479.8" stroke="#3db54a" stroke-width="0.9"/>
<line x1="200.3" y1="487.8" x2="204.9" y2="487.8" stroke="#3db54a" stroke-width="0.9"/>
<path d="M201 478.94 L199.57 481.54 L202.43 481.54Z" fill="#3db54a"/>
<path d="M203.5 484.44 L202.07 487.04 L204.93 487.04Z" fill="#3db54a"/>
<path d="M200.5 485.94 L199.07 488.54 L201.93 488.54Z" fill="#3db54a"/>
<rect x="214.3" y="512" width="12.2" height="12.2" fill="#c4abd0"/>
<line x1="220.4" y1="511" x2="220.4" y2="513" stroke="#5e2a84" stroke-width="0.9"/>
<line x1="218.1" y1="511" x2="222.7" y2="511" stroke="#5e2a84" stroke-width="0.9"/>
<line x1="218.1" y1="513" x2="222.7" y2="513" stroke="#5e2a84" stroke-width="0.9"/>
<path d="M217.5 513.56 L216.07 510.96 L218.93 510.96Z" fill="#5e2a84"/>
<path d="M220.4 514.06 L218.97 511.46 L221.83 511.46Z" fill="#5e2a84"/>
<path d="M223 513.56 L221.57 510.96 L224.43 510.96Z" fill="#5e2a84"/>
<line x1="154" y1="524.2" x2="229" y2="524.2" stroke="#1a1a1a" stroke-width="1.3"/>
<line x1="166.9" y1="524.2" x2="166.9" y2="526.8" stroke="#1a1a1a" stroke-width="0.9"/>
<text x="169.9" y="534.6" font-size="7.45" text-anchor="end" fill="#1c1c1c" color="#1c1c1c" transform="rotate(-35 169.9 534.6)">Ctrl</text>
<line x1="184.6" y1="524.2" x2="184.6" y2="526.8" stroke="#1a1a1a" stroke-width="0.9"/>
<text x="187.6" y="534.6" font-size="7.45" text-anchor="end" fill="#1c1c1c" color="#1c1c1c" transform="rotate(-35 187.6 534.6)">Collagen</text>
<line x1="202.6" y1="524.2" x2="202.6" y2="526.8" stroke="#1a1a1a" stroke-width="0.9"/>
<text x="205.6" y="534.6" font-size="7.45" text-anchor="end" fill="#1c1c1c" color="#1c1c1c" transform="rotate(-35 205.6 534.6)">Hcy</text>
<line x1="220.4" y1="524.2" x2="220.4" y2="526.8" stroke="#1a1a1a" stroke-width="0.9"/>
<text x="223.4" y="534.6" font-size="7.45" text-anchor="end" fill="#1c1c1c" color="#1c1c1c" transform="rotate(-35 223.4 534.6)">Hcy+Collagen</text>
<circle cx="185" cy="488" r="0.95" fill="#1a1a1a"/>
<circle cx="218" cy="502.3" r="0.95" fill="#1a1a1a"/>
<path d="M221.5 500.2V504.8M223.1 500.2V504.8M220.4 501.7H224.2M220.4 503.3H224.2" stroke="#333" stroke-width="0.7" fill="none"/>
<text x="121.5" y="494.2" font-size="8.4" text-anchor="middle" fill="#1c1c1c" color="#1c1c1c" transform="rotate(-90 121.5 494.2)" textLength="34" lengthAdjust="spacingAndGlyphs" style="stroke-width:0.35px">ATX/β-actin</text>
<text x="132.6" y="494.2" font-size="8.4" text-anchor="middle" fill="#1c1c1c" color="#1c1c1c" transform="rotate(-90 132.6 494.2)" textLength="58" lengthAdjust="spacingAndGlyphs" style="stroke-width:0.35px">relative protein levels</text>
<text x="237.7" y="451.15" font-size="11.5" font-weight="bold" fill="#000" color="#000" textLength="6.32" lengthAdjust="spacingAndGlyphs">L</text>
<line x1="275.6" y1="465.2" x2="275.6" y2="514.4" stroke="#1a1a1a" stroke-width="1.2"/>
<line x1="275.6" y1="519" x2="275.6" y2="525.3" stroke="#1a1a1a" stroke-width="1.2"/>
<line x1="272.6" y1="514.4" x2="275.6" y2="514.4" stroke="#1a1a1a" stroke-width="0.9"/>
<line x1="272.6" y1="519" x2="275.6" y2="519" stroke="#1a1a1a" stroke-width="0.9"/>
<line x1="272.6" y1="465.4" x2="275.6" y2="465.4" stroke="#1a1a1a" stroke-width="0.9"/>
<text x="269.4" y="468.1" font-size="7.9" text-anchor="end" fill="#1c1c1c" color="#1c1c1c">5000</text>
<line x1="272.6" y1="475" x2="275.6" y2="475" stroke="#1a1a1a" stroke-width="0.9"/>
<text x="269.4" y="477.7" font-size="7.9" text-anchor="end" fill="#1c1c1c" color="#1c1c1c">4500</text>
<line x1="272.6" y1="484.7" x2="275.6" y2="484.7" stroke="#1a1a1a" stroke-width="0.9"/>
<text x="269.4" y="487.4" font-size="7.9" text-anchor="end" fill="#1c1c1c" color="#1c1c1c">4000</text>
<line x1="272.6" y1="494.5" x2="275.6" y2="494.5" stroke="#1a1a1a" stroke-width="0.9"/>
<text x="269.4" y="497.2" font-size="7.9" text-anchor="end" fill="#1c1c1c" color="#1c1c1c">3500</text>
<line x1="272.6" y1="504.3" x2="275.6" y2="504.3" stroke="#1a1a1a" stroke-width="0.9"/>
<text x="269.4" y="507" font-size="7.9" text-anchor="end" fill="#1c1c1c" color="#1c1c1c">3000</text>
<line x1="272.6" y1="514" x2="275.6" y2="514" stroke="#1a1a1a" stroke-width="0.9"/>
<text x="269.4" y="516.7" font-size="7.9" text-anchor="end" fill="#1c1c1c" color="#1c1c1c">2500</text>
<line x1="272.6" y1="519.4" x2="275.6" y2="519.4" stroke="#1a1a1a" stroke-width="0.9"/>
<text x="269.4" y="522.1" font-size="7.9" text-anchor="end" fill="#1c1c1c" color="#1c1c1c">1000</text>
<line x1="272.6" y1="524.8" x2="275.6" y2="524.8" stroke="#1a1a1a" stroke-width="0.9"/>
<text x="269.4" y="527.5" font-size="7.9" text-anchor="end" fill="#1c1c1c" color="#1c1c1c">0</text>
<line x1="275.6" y1="524.8" x2="368.6" y2="524.8" stroke="#1a1a1a" stroke-width="1.2"/>
<line x1="275.6" y1="524.8" x2="275.6" y2="527.6" stroke="#1a1a1a" stroke-width="0.9"/>
<text x="275.6" y="535.9" font-size="7.45" text-anchor="middle" fill="#1c1c1c" color="#1c1c1c">0</text>
<line x1="294.15" y1="524.8" x2="294.15" y2="527.6" stroke="#1a1a1a" stroke-width="0.9"/>
<text x="294.15" y="535.9" font-size="7.45" text-anchor="middle" fill="#1c1c1c" color="#1c1c1c">10</text>
<line x1="312.7" y1="524.8" x2="312.7" y2="527.6" stroke="#1a1a1a" stroke-width="0.9"/>
<text x="312.7" y="535.9" font-size="7.45" text-anchor="middle" fill="#1c1c1c" color="#1c1c1c">20</text>
<line x1="331.25" y1="524.8" x2="331.25" y2="527.6" stroke="#1a1a1a" stroke-width="0.9"/>
<text x="331.25" y="535.9" font-size="7.45" text-anchor="middle" fill="#1c1c1c" color="#1c1c1c">30</text>
<line x1="349.8" y1="524.8" x2="349.8" y2="527.6" stroke="#1a1a1a" stroke-width="0.9"/>
<text x="349.8" y="535.9" font-size="7.45" text-anchor="middle" fill="#1c1c1c" color="#1c1c1c">40</text>
<line x1="368.35" y1="524.8" x2="368.35" y2="527.6" stroke="#1a1a1a" stroke-width="0.9"/>
<text x="368.35" y="535.9" font-size="7.45" text-anchor="middle" fill="#1c1c1c" color="#1c1c1c">50</text>
<text x="321.1" y="548.2" font-size="8.4" text-anchor="middle" fill="#1c1c1c" color="#1c1c1c" textLength="39" lengthAdjust="spacingAndGlyphs" style="stroke-width:0.35px">Hcy (μmol/L)</text>
<text x="245.2" y="495.6" font-size="8.4" text-anchor="middle" fill="#1c1c1c" color="#1c1c1c" transform="rotate(-90 245.2 495.6)" textLength="36" lengthAdjust="spacingAndGlyphs" style="stroke-width:0.35px">ATX (pg/mL)</text>
<circle cx="288.08" cy="485" r="1.25" fill="#c8102e"/>
<circle cx="299.04" cy="484.42" r="1.25" fill="#c8102e"/>
<circle cx="302.88" cy="481.54" r="1.25" fill="#c8102e"/>
<circle cx="311.15" cy="483.08" r="1.25" fill="#c8102e"/>
<circle cx="321.15" cy="477.69" r="1.25" fill="#c8102e"/>
<circle cx="340.38" cy="477.69" r="1.25" fill="#c8102e"/>
<circle cx="336.15" cy="487.31" r="1.25" fill="#c8102e"/>
<circle cx="337.5" cy="488.85" r="1.25" fill="#c8102e"/>
<circle cx="358.08" cy="487.69" r="1.25" fill="#c8102e"/>
<circle cx="362.5" cy="486.92" r="1.25" fill="#c8102e"/>
<circle cx="293.27" cy="494.04" r="1.25" fill="#c8102e"/>
<circle cx="291.92" cy="495.96" r="1.25" fill="#c8102e"/>
<circle cx="292.31" cy="498.46" r="1.25" fill="#c8102e"/>
<circle cx="291.35" cy="500.77" r="1.25" fill="#c8102e"/>
<circle cx="288.46" cy="501.73" r="1.25" fill="#c8102e"/>
<circle cx="290" cy="502.31" r="1.25" fill="#c8102e"/>
<circle cx="284.62" cy="504.23" r="1.25" fill="#c8102e"/>
<circle cx="298.08" cy="487.69" r="1.25" fill="#c8102e"/>
<circle cx="297.12" cy="491.15" r="1.25" fill="#c8102e"/>
<circle cx="300" cy="492.12" r="1.25" fill="#c8102e"/>
<circle cx="303.85" cy="493.08" r="1.25" fill="#c8102e"/>
<circle cx="305.77" cy="491.15" r="1.25" fill="#c8102e"/>
<circle cx="306.73" cy="494.04" r="1.25" fill="#c8102e"/>
<circle cx="311.15" cy="490.19" r="1.25" fill="#c8102e"/>
<circle cx="300.96" cy="496.92" r="1.25" fill="#c8102e"/>
<circle cx="300" cy="498.85" r="1.25" fill="#c8102e"/>
<circle cx="299.04" cy="500.38" r="1.25" fill="#c8102e"/>
<circle cx="301.92" cy="498.46" r="1.25" fill="#c8102e"/>
<circle cx="298.08" cy="495" r="1.25" fill="#c8102e"/>
<circle cx="296.15" cy="496.92" r="1.25" fill="#c8102e"/>
<circle cx="295.19" cy="501.73" r="1.25" fill="#c8102e"/>
<circle cx="294.23" cy="503.65" r="1.25" fill="#c8102e"/>
<circle cx="295.77" cy="504.62" r="1.25" fill="#c8102e"/>
<circle cx="296.54" cy="506.54" r="1.25" fill="#c8102e"/>
<circle cx="293.27" cy="507.5" r="1.25" fill="#c8102e"/>
<circle cx="294.23" cy="510" r="1.25" fill="#c8102e"/>
<circle cx="297.12" cy="511.35" r="1.25" fill="#c8102e"/>
<circle cx="299.04" cy="510.38" r="1.25" fill="#c8102e"/>
<circle cx="299.62" cy="513.27" r="1.25" fill="#c8102e"/>
<circle cx="292.69" cy="513.27" r="1.25" fill="#c8102e"/>
<circle cx="296.15" cy="513.85" r="1.25" fill="#c8102e"/>
<circle cx="301.92" cy="504.62" r="1.25" fill="#c8102e"/>
<circle cx="301.92" cy="508.46" r="1.25" fill="#c8102e"/>
<circle cx="306.73" cy="503.65" r="1.25" fill="#c8102e"/>
<circle cx="310.58" cy="500.77" r="1.25" fill="#c8102e"/>
<circle cx="311.54" cy="501.15" r="1.25" fill="#c8102e"/>
<circle cx="314.42" cy="504.23" r="1.25" fill="#c8102e"/>
<circle cx="318.27" cy="496.92" r="1.25" fill="#c8102e"/>
<circle cx="321.15" cy="495.96" r="1.25" fill="#c8102e"/>
<circle cx="322.12" cy="496.92" r="1.25" fill="#c8102e"/>
<circle cx="317.31" cy="510.38" r="1.25" fill="#c8102e"/>
<circle cx="326.92" cy="506.15" r="1.25" fill="#c8102e"/>
<circle cx="327.88" cy="498.85" r="1.25" fill="#c8102e"/>
<circle cx="332.69" cy="502.69" r="1.25" fill="#c8102e"/>
<circle cx="333.65" cy="494.62" r="1.25" fill="#c8102e"/>
<circle cx="339.42" cy="491.15" r="1.25" fill="#c8102e"/>
<circle cx="339.42" cy="494.04" r="1.25" fill="#c8102e"/>
<circle cx="335.58" cy="510.38" r="1.25" fill="#c8102e"/>
<circle cx="341.35" cy="509.42" r="1.25" fill="#c8102e"/>
<circle cx="349.04" cy="500.77" r="1.25" fill="#c8102e"/>
<circle cx="349.62" cy="502.31" r="1.25" fill="#c8102e"/>
<circle cx="351.92" cy="496.92" r="1.25" fill="#c8102e"/>
<circle cx="359.62" cy="488.27" r="1.25" fill="#c8102e"/>
<circle cx="309.62" cy="503.65" r="1.25" fill="#c8102e"/>
<circle cx="303.85" cy="503.65" r="1.25" fill="#c8102e"/>
<circle cx="298.08" cy="503.65" r="1.25" fill="#c8102e"/>
<circle cx="294.23" cy="505.58" r="1.25" fill="#c8102e"/>
<circle cx="286.54" cy="502.69" r="1.25" fill="#c8102e"/>
<circle cx="304.81" cy="495" r="1.25" fill="#c8102e"/>
<circle cx="302.88" cy="492.12" r="1.25" fill="#c8102e"/>
<circle cx="297.69" cy="508.46" r="1.25" fill="#c8102e"/>
<circle cx="300.38" cy="502.69" r="1.25" fill="#c8102e"/>
<circle cx="294.62" cy="498.85" r="1.25" fill="#c8102e"/>
<circle cx="293.46" cy="496.92" r="1.25" fill="#c8102e"/>
<circle cx="298.46" cy="493.08" r="1.25" fill="#c8102e"/>
<circle cx="308.65" cy="500.77" r="1.25" fill="#c8102e"/>
<circle cx="290.77" cy="506.54" r="1.25" fill="#c8102e"/>
<circle cx="297.5" cy="500.77" r="1.25" fill="#c8102e"/>
<circle cx="302.31" cy="501.35" r="1.25" fill="#c8102e"/>
<circle cx="314.42" cy="499.81" r="1.25" fill="#c8102e"/>
<circle cx="319.23" cy="501.15" r="1.25" fill="#c8102e"/>
<circle cx="325" cy="499.81" r="1.25" fill="#c8102e"/>
<line x1="284.8" y1="507.7" x2="361.5" y2="491" stroke="#c8102e" stroke-width="1.3"/>
<text x="345.1" y="459.4" font-size="7.3" fill="#1c1c1c" color="#1c1c1c">r=0.34</text>
<text x="345.1" y="467.8" font-size="7.3" fill="#1c1c1c" color="#1c1c1c">P&lt;0.05</text>
<text x="345.1" y="476.6" font-size="7.3" fill="#1c1c1c" color="#1c1c1c">n=88</text>
<text x="377.4" y="451.15" font-size="11.5" font-weight="bold" fill="#000" color="#000" textLength="8.62" lengthAdjust="spacingAndGlyphs">M</text>
<line x1="415.4" y1="465" x2="415.4" y2="524.5" stroke="#1a1a1a" stroke-width="1.2"/>
<line x1="412.4" y1="465.2" x2="415.4" y2="465.2" stroke="#1a1a1a" stroke-width="0.9"/>
<text x="409.2" y="467.9" font-size="7.9" text-anchor="end" fill="#1c1c1c" color="#1c1c1c">4000</text>
<line x1="412.4" y1="479.9" x2="415.4" y2="479.9" stroke="#1a1a1a" stroke-width="0.9"/>
<text x="409.2" y="482.6" font-size="7.9" text-anchor="end" fill="#1c1c1c" color="#1c1c1c">3000</text>
<line x1="412.4" y1="494.6" x2="415.4" y2="494.6" stroke="#1a1a1a" stroke-width="0.9"/>
<text x="409.2" y="497.3" font-size="7.9" text-anchor="end" fill="#1c1c1c" color="#1c1c1c">2000</text>
<line x1="412.4" y1="509.3" x2="415.4" y2="509.3" stroke="#1a1a1a" stroke-width="0.9"/>
<text x="409.2" y="512" font-size="7.9" text-anchor="end" fill="#1c1c1c" color="#1c1c1c">1000</text>
<line x1="412.4" y1="524" x2="415.4" y2="524" stroke="#1a1a1a" stroke-width="0.9"/>
<text x="409.2" y="526.7" font-size="7.9" text-anchor="end" fill="#1c1c1c" color="#1c1c1c">0</text>
<line x1="415.4" y1="524" x2="508.4" y2="524" stroke="#1a1a1a" stroke-width="1.2"/>
<line x1="415.4" y1="524" x2="415.4" y2="526.8" stroke="#1a1a1a" stroke-width="0.9"/>
<text x="415.4" y="535.1" font-size="7.45" text-anchor="middle" fill="#1c1c1c" color="#1c1c1c">0</text>
<line x1="433.95" y1="524" x2="433.95" y2="526.8" stroke="#1a1a1a" stroke-width="0.9"/>
<text x="433.95" y="535.1" font-size="7.45" text-anchor="middle" fill="#1c1c1c" color="#1c1c1c">10</text>
<line x1="452.5" y1="524" x2="452.5" y2="526.8" stroke="#1a1a1a" stroke-width="0.9"/>
<text x="452.5" y="535.1" font-size="7.45" text-anchor="middle" fill="#1c1c1c" color="#1c1c1c">20</text>
<line x1="471.05" y1="524" x2="471.05" y2="526.8" stroke="#1a1a1a" stroke-width="0.9"/>
<text x="471.05" y="535.1" font-size="7.45" text-anchor="middle" fill="#1c1c1c" color="#1c1c1c">30</text>
<line x1="489.6" y1="524" x2="489.6" y2="526.8" stroke="#1a1a1a" stroke-width="0.9"/>
<text x="489.6" y="535.1" font-size="7.45" text-anchor="middle" fill="#1c1c1c" color="#1c1c1c">40</text>
<line x1="508.15" y1="524" x2="508.15" y2="526.8" stroke="#1a1a1a" stroke-width="0.9"/>
<text x="508.15" y="535.1" font-size="7.45" text-anchor="middle" fill="#1c1c1c" color="#1c1c1c">50</text>
<text x="460.9" y="548.2" font-size="8.4" text-anchor="middle" fill="#1c1c1c" color="#1c1c1c" textLength="39" lengthAdjust="spacingAndGlyphs" style="stroke-width:0.35px">Hcy (μmol/L)</text>
<text x="385.2" y="495.6" font-size="8.4" text-anchor="middle" fill="#1c1c1c" color="#1c1c1c" transform="rotate(-90 385.2 495.6)" textLength="36" lengthAdjust="spacingAndGlyphs" style="stroke-width:0.35px">LPA (ng/mL)</text>
<circle cx="479.42" cy="469.23" r="1.25" fill="#c8102e"/>
<circle cx="435.77" cy="476.54" r="1.25" fill="#c8102e"/>
<circle cx="437.69" cy="482.31" r="1.25" fill="#c8102e"/>
<circle cx="438.46" cy="482.69" r="1.25" fill="#c8102e"/>
<circle cx="446.15" cy="481.35" r="1.25" fill="#c8102e"/>
<circle cx="458.27" cy="483.27" r="1.25" fill="#c8102e"/>
<circle cx="461.54" cy="484.23" r="1.25" fill="#c8102e"/>
<circle cx="472.69" cy="486.54" r="1.25" fill="#c8102e"/>
<circle cx="476.92" cy="487.69" r="1.25" fill="#c8102e"/>
<circle cx="488.46" cy="483.27" r="1.25" fill="#c8102e"/>
<circle cx="501.92" cy="480.77" r="1.25" fill="#c8102e"/>
<circle cx="498.08" cy="487.69" r="1.25" fill="#c8102e"/>
<circle cx="428.08" cy="491.92" r="1.25" fill="#c8102e"/>
<circle cx="434.62" cy="490.38" r="1.25" fill="#c8102e"/>
<circle cx="437.69" cy="492.88" r="1.25" fill="#c8102e"/>
<circle cx="442.88" cy="488.08" r="1.25" fill="#c8102e"/>
<circle cx="447.31" cy="491.54" r="1.25" fill="#c8102e"/>
<circle cx="450.58" cy="494.23" r="1.25" fill="#c8102e"/>
<circle cx="456.92" cy="488.08" r="1.25" fill="#c8102e"/>
<circle cx="460.77" cy="490.96" r="1.25" fill="#c8102e"/>
<circle cx="466.92" cy="491.92" r="1.25" fill="#c8102e"/>
<circle cx="473.65" cy="490" r="1.25" fill="#c8102e"/>
<circle cx="430.38" cy="494.81" r="1.25" fill="#c8102e"/>
<circle cx="427.5" cy="496.15" r="1.25" fill="#c8102e"/>
<circle cx="432.31" cy="498.65" r="1.25" fill="#c8102e"/>
<circle cx="436.15" cy="495.77" r="1.25" fill="#c8102e"/>
<circle cx="439.04" cy="498.65" r="1.25" fill="#c8102e"/>
<circle cx="440.38" cy="500" r="1.25" fill="#c8102e"/>
<circle cx="441.92" cy="495.77" r="1.25" fill="#c8102e"/>
<circle cx="442.88" cy="493.46" r="1.25" fill="#c8102e"/>
<circle cx="434.23" cy="501.54" r="1.25" fill="#c8102e"/>
<circle cx="433.27" cy="503.46" r="1.25" fill="#c8102e"/>
<circle cx="436.15" cy="504.42" r="1.25" fill="#c8102e"/>
<circle cx="438.08" cy="503.08" r="1.25" fill="#c8102e"/>
<circle cx="439.62" cy="501.54" r="1.25" fill="#c8102e"/>
<circle cx="431.35" cy="505.38" r="1.25" fill="#c8102e"/>
<circle cx="429.42" cy="506.92" r="1.25" fill="#c8102e"/>
<circle cx="432.31" cy="508.85" r="1.25" fill="#c8102e"/>
<circle cx="434.23" cy="510.19" r="1.25" fill="#c8102e"/>
<circle cx="436.54" cy="507.69" r="1.25" fill="#c8102e"/>
<circle cx="439.04" cy="508.85" r="1.25" fill="#c8102e"/>
<circle cx="440.96" cy="511.15" r="1.25" fill="#c8102e"/>
<circle cx="443.85" cy="510.19" r="1.25" fill="#c8102e"/>
<circle cx="445.77" cy="509.62" r="1.25" fill="#c8102e"/>
<circle cx="449.62" cy="508.27" r="1.25" fill="#c8102e"/>
<circle cx="451.54" cy="505.77" r="1.25" fill="#c8102e"/>
<circle cx="454.42" cy="505.38" r="1.25" fill="#c8102e"/>
<circle cx="456.92" cy="499.23" r="1.25" fill="#c8102e"/>
<circle cx="460.19" cy="501.54" r="1.25" fill="#c8102e"/>
<circle cx="465.96" cy="502.5" r="1.25" fill="#c8102e"/>
<circle cx="471.15" cy="506.35" r="1.25" fill="#c8102e"/>
<circle cx="475" cy="511.15" r="1.25" fill="#c8102e"/>
<circle cx="476.15" cy="499.62" r="1.25" fill="#c8102e"/>
<circle cx="480.38" cy="501.92" r="1.25" fill="#c8102e"/>
<circle cx="480.77" cy="510.19" r="1.25" fill="#c8102e"/>
<circle cx="489.04" cy="505" r="1.25" fill="#c8102e"/>
<circle cx="491.92" cy="508.27" r="1.25" fill="#c8102e"/>
<circle cx="424.23" cy="510.77" r="1.25" fill="#c8102e"/>
<circle cx="426.54" cy="509.62" r="1.25" fill="#c8102e"/>
<circle cx="430" cy="511.15" r="1.25" fill="#c8102e"/>
<circle cx="431.92" cy="513.08" r="1.25" fill="#c8102e"/>
<circle cx="433.27" cy="514.62" r="1.25" fill="#c8102e"/>
<circle cx="431.15" cy="520.38" r="1.25" fill="#c8102e"/>
<circle cx="434.23" cy="512.12" r="1.25" fill="#c8102e"/>
<circle cx="435.77" cy="510.77" r="1.25" fill="#c8102e"/>
<circle cx="437.69" cy="509.62" r="1.25" fill="#c8102e"/>
<circle cx="439.62" cy="506.92" r="1.25" fill="#c8102e"/>
<circle cx="441.54" cy="505.38" r="1.25" fill="#c8102e"/>
<circle cx="438.46" cy="505.77" r="1.25" fill="#c8102e"/>
<circle cx="435.77" cy="506.35" r="1.25" fill="#c8102e"/>
<circle cx="433.46" cy="507.69" r="1.25" fill="#c8102e"/>
<circle cx="428.46" cy="508.85" r="1.25" fill="#c8102e"/>
<circle cx="437.12" cy="513.08" r="1.25" fill="#c8102e"/>
<circle cx="441.92" cy="508.27" r="1.25" fill="#c8102e"/>
<circle cx="445.77" cy="506.35" r="1.25" fill="#c8102e"/>
<circle cx="450.58" cy="509.23" r="1.25" fill="#c8102e"/>
<circle cx="440.38" cy="503.46" r="1.25" fill="#c8102e"/>
<circle cx="443.85" cy="503.08" r="1.25" fill="#c8102e"/>
<circle cx="435" cy="502.69" r="1.25" fill="#c8102e"/>
<circle cx="432.69" cy="506.35" r="1.25" fill="#c8102e"/>
<circle cx="429.62" cy="505" r="1.25" fill="#c8102e"/>
<circle cx="438.08" cy="500.58" r="1.25" fill="#c8102e"/>
<circle cx="436.54" cy="514.04" r="1.25" fill="#c8102e"/>
<circle cx="433.85" cy="515.38" r="1.25" fill="#c8102e"/>
<circle cx="448.08" cy="506.35" r="1.25" fill="#c8102e"/>
<line x1="424.8" y1="505.8" x2="501.5" y2="489.7" stroke="#c8102e" stroke-width="1.3"/>
<text x="484.9" y="459.4" font-size="7.3" fill="#1c1c1c" color="#1c1c1c">r=0.36</text>
<text x="484.9" y="467.8" font-size="7.3" fill="#1c1c1c" color="#1c1c1c">P&lt;0.05</text>
<text x="484.9" y="476.6" font-size="7.3" fill="#1c1c1c" color="#1c1c1c">n=88</text>
</svg>
</body></html>
